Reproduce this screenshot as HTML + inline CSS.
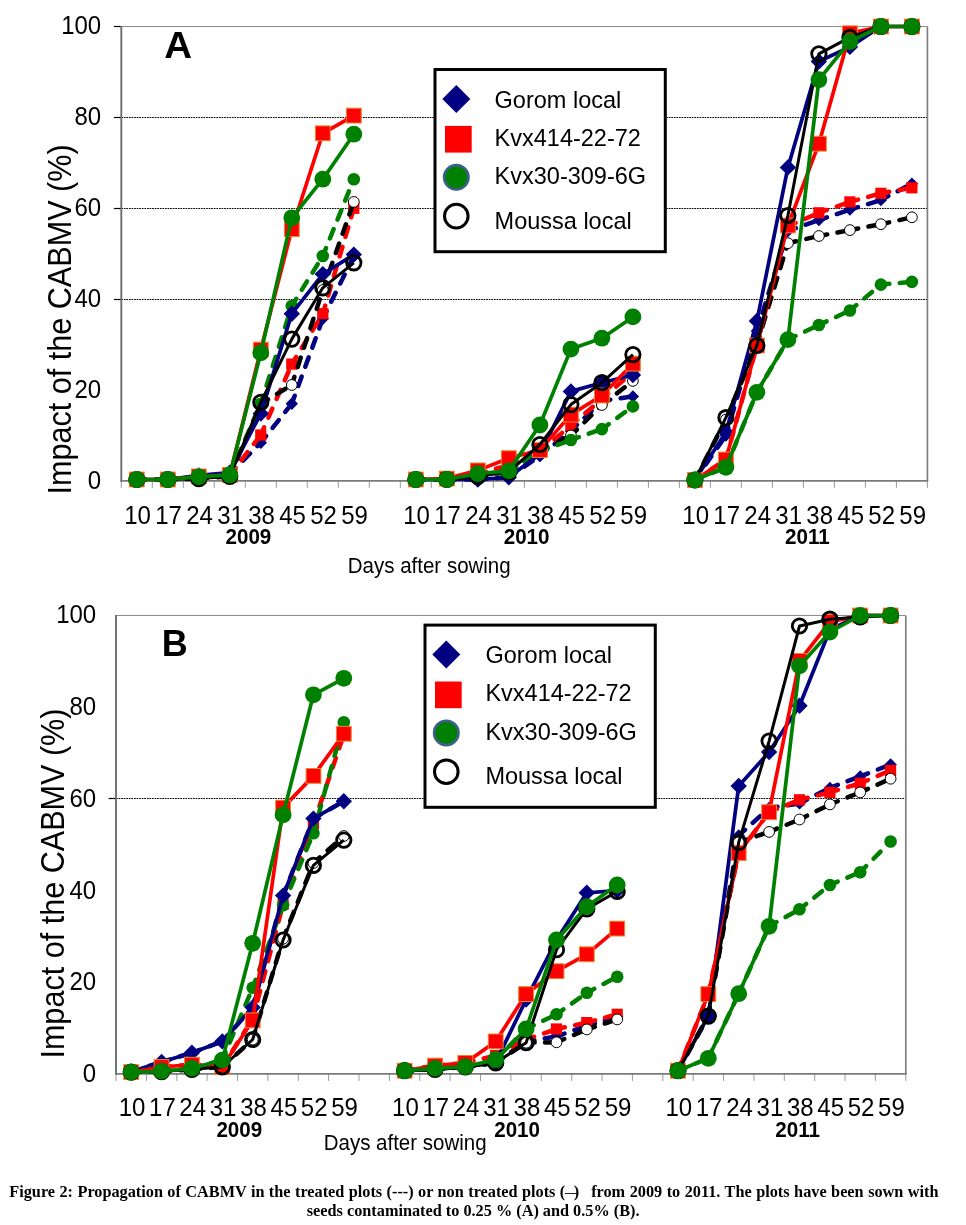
<!DOCTYPE html>
<html lang="en">
<head>
<meta charset="utf-8">
<title>Figure 2: Propagation of CABMV</title>
<style>
html,body{margin:0;padding:0;background:#fff;}
body{width:966px;height:1225px;overflow:hidden;}
svg{display:block;}
</style>
</head>
<body>
<svg width="966" height="1225" viewBox="0 0 966 1225" font-family="'Liberation Sans', Arial, sans-serif" fill="#000">
<rect width="966" height="1225" fill="#fff"/>
<g id="chartA">
<line x1="121.3" y1="299.5" x2="927.4" y2="299.5" stroke="#000" stroke-width="1" stroke-dasharray="1.7 0.87"/>
<line x1="121.3" y1="208.5" x2="927.4" y2="208.5" stroke="#000" stroke-width="1" stroke-dasharray="1.7 0.87"/>
<line x1="121.3" y1="117.5" x2="927.4" y2="117.5" stroke="#000" stroke-width="1" stroke-dasharray="1.7 0.87"/>
<path d="M121.3 26.5H927.4" fill="none" stroke="#8c8c8c" stroke-width="1.1"/>
<path d="M927.4 26.5V480.9" fill="none" stroke="#808080" stroke-width="1.7"/>
<line x1="113.9" y1="299.5" x2="121.3" y2="299.5" stroke="#000" stroke-width="1.2"/>
<line x1="113.9" y1="208.5" x2="121.3" y2="208.5" stroke="#000" stroke-width="1.2"/>
<line x1="113.9" y1="117.5" x2="121.3" y2="117.5" stroke="#000" stroke-width="1.2"/>
<line x1="113.9" y1="26.5" x2="121.3" y2="26.5" stroke="#000" stroke-width="1.2"/>
<line x1="121.3" y1="480.9" x2="121.3" y2="487.9" stroke="#9a9a9a" stroke-width="1"/>
<line x1="152.3" y1="480.9" x2="152.3" y2="487.9" stroke="#9a9a9a" stroke-width="1"/>
<line x1="183.3" y1="480.9" x2="183.3" y2="487.9" stroke="#9a9a9a" stroke-width="1"/>
<line x1="214.3" y1="480.9" x2="214.3" y2="487.9" stroke="#9a9a9a" stroke-width="1"/>
<line x1="245.3" y1="480.9" x2="245.3" y2="487.9" stroke="#9a9a9a" stroke-width="1"/>
<line x1="276.3" y1="480.9" x2="276.3" y2="487.9" stroke="#9a9a9a" stroke-width="1"/>
<line x1="307.3" y1="480.9" x2="307.3" y2="487.9" stroke="#9a9a9a" stroke-width="1"/>
<line x1="338.3" y1="480.9" x2="338.3" y2="487.9" stroke="#9a9a9a" stroke-width="1"/>
<line x1="369.3" y1="480.9" x2="369.3" y2="487.9" stroke="#9a9a9a" stroke-width="1"/>
<line x1="400.3" y1="480.9" x2="400.3" y2="487.9" stroke="#9a9a9a" stroke-width="1"/>
<line x1="431.3" y1="480.9" x2="431.3" y2="487.9" stroke="#9a9a9a" stroke-width="1"/>
<line x1="462.3" y1="480.9" x2="462.3" y2="487.9" stroke="#9a9a9a" stroke-width="1"/>
<line x1="493.3" y1="480.9" x2="493.3" y2="487.9" stroke="#9a9a9a" stroke-width="1"/>
<line x1="524.4" y1="480.9" x2="524.4" y2="487.9" stroke="#9a9a9a" stroke-width="1"/>
<line x1="555.4" y1="480.9" x2="555.4" y2="487.9" stroke="#9a9a9a" stroke-width="1"/>
<line x1="586.4" y1="480.9" x2="586.4" y2="487.9" stroke="#9a9a9a" stroke-width="1"/>
<line x1="617.4" y1="480.9" x2="617.4" y2="487.9" stroke="#9a9a9a" stroke-width="1"/>
<line x1="648.4" y1="480.9" x2="648.4" y2="487.9" stroke="#9a9a9a" stroke-width="1"/>
<line x1="679.4" y1="480.9" x2="679.4" y2="487.9" stroke="#9a9a9a" stroke-width="1"/>
<line x1="710.4" y1="480.9" x2="710.4" y2="487.9" stroke="#9a9a9a" stroke-width="1"/>
<line x1="741.4" y1="480.9" x2="741.4" y2="487.9" stroke="#9a9a9a" stroke-width="1"/>
<line x1="772.4" y1="480.9" x2="772.4" y2="487.9" stroke="#9a9a9a" stroke-width="1"/>
<line x1="803.4" y1="480.9" x2="803.4" y2="487.9" stroke="#9a9a9a" stroke-width="1"/>
<line x1="834.4" y1="480.9" x2="834.4" y2="487.9" stroke="#9a9a9a" stroke-width="1"/>
<line x1="865.4" y1="480.9" x2="865.4" y2="487.9" stroke="#9a9a9a" stroke-width="1"/>
<line x1="896.4" y1="480.9" x2="896.4" y2="487.9" stroke="#9a9a9a" stroke-width="1"/>
<line x1="927.4" y1="480.9" x2="927.4" y2="487.9" stroke="#9a9a9a" stroke-width="1"/>
<path d="M121.3 26V481.8" fill="none" stroke="#6e6e6e" stroke-width="1.9"/>
<path d="M120.4 480.9H928.2" fill="none" stroke="#7a7a7a" stroke-width="1.8"/>
<line x1="136.8" y1="479.5" x2="167.8" y2="479.5" stroke="#000080" stroke-width="4.5" stroke-dasharray="10 10.4" stroke-dashoffset="1.5" stroke-linecap="round"/>
<line x1="167.8" y1="479.5" x2="198.8" y2="476.4" stroke="#000080" stroke-width="4.5" stroke-dasharray="10 10.4" stroke-dashoffset="1.5" stroke-linecap="round"/>
<line x1="198.8" y1="476.4" x2="229.8" y2="474.1" stroke="#000080" stroke-width="4.5" stroke-dasharray="10 10.4" stroke-dashoffset="1.5" stroke-linecap="round"/>
<line x1="229.8" y1="474.1" x2="260.8" y2="442.7" stroke="#000080" stroke-width="4.5" stroke-dasharray="10 10.4" stroke-dashoffset="1.5" stroke-linecap="round"/>
<line x1="260.8" y1="442.7" x2="291.8" y2="403.7" stroke="#000080" stroke-width="4.5" stroke-dasharray="10 10.4" stroke-dashoffset="1.5" stroke-linecap="round"/>
<line x1="291.8" y1="403.7" x2="322.8" y2="318.7" stroke="#000080" stroke-width="4.5" stroke-dasharray="10 10.4" stroke-dashoffset="1.5" stroke-linecap="round"/>
<line x1="322.8" y1="318.7" x2="353.8" y2="256" stroke="#000080" stroke-width="4.5" stroke-dasharray="10 10.4" stroke-dashoffset="1.5" stroke-linecap="round"/>
<path d="M136.8 473.3L143 479.5L136.8 485.7L130.6 479.5Z" fill="#000080"/>
<path d="M167.8 473.3L174 479.5L167.8 485.7L161.6 479.5Z" fill="#000080"/>
<path d="M198.8 470.2L205 476.4L198.8 482.6L192.6 476.4Z" fill="#000080"/>
<path d="M229.8 467.9L236 474.1L229.8 480.3L223.6 474.1Z" fill="#000080"/>
<path d="M260.8 436.5L267 442.7L260.8 448.9L254.6 442.7Z" fill="#000080"/>
<path d="M291.8 397.5L298 403.7L291.8 409.9L285.6 403.7Z" fill="#000080"/>
<path d="M322.8 312.5L329 318.7L322.8 324.9L316.6 318.7Z" fill="#000080"/>
<path d="M353.8 249.8L360 256L353.8 262.2L347.6 256Z" fill="#000080"/>
<line x1="415.8" y1="479.5" x2="446.8" y2="479.5" stroke="#000080" stroke-width="4.5" stroke-dasharray="10 10.4" stroke-dashoffset="1.5" stroke-linecap="round"/>
<line x1="446.8" y1="479.5" x2="477.8" y2="479.5" stroke="#000080" stroke-width="4.5" stroke-dasharray="10 10.4" stroke-dashoffset="1.5" stroke-linecap="round"/>
<line x1="477.8" y1="479.5" x2="508.8" y2="477.3" stroke="#000080" stroke-width="4.5" stroke-dasharray="10 10.4" stroke-dashoffset="1.5" stroke-linecap="round"/>
<line x1="508.8" y1="477.3" x2="539.9" y2="455.9" stroke="#000080" stroke-width="4.5" stroke-dasharray="10 10.4" stroke-dashoffset="1.5" stroke-linecap="round"/>
<line x1="539.9" y1="455.9" x2="570.9" y2="430.9" stroke="#000080" stroke-width="4.5" stroke-dasharray="10 10.4" stroke-dashoffset="1.5" stroke-linecap="round"/>
<line x1="570.9" y1="430.9" x2="601.9" y2="400.9" stroke="#000080" stroke-width="4.5" stroke-dasharray="10 10.4" stroke-dashoffset="1.5" stroke-linecap="round"/>
<line x1="601.9" y1="400.9" x2="632.9" y2="396.4" stroke="#000080" stroke-width="4.5" stroke-dasharray="10 10.4" stroke-dashoffset="1.5" stroke-linecap="round"/>
<path d="M415.8 473.3L422 479.5L415.8 485.7L409.6 479.5Z" fill="#000080"/>
<path d="M446.8 473.3L453 479.5L446.8 485.7L440.6 479.5Z" fill="#000080"/>
<path d="M477.8 473.3L484 479.5L477.8 485.7L471.6 479.5Z" fill="#000080"/>
<path d="M508.8 471.1L515 477.3L508.8 483.5L502.6 477.3Z" fill="#000080"/>
<path d="M539.9 449.7L546.1 455.9L539.9 462.1L533.7 455.9Z" fill="#000080"/>
<path d="M570.9 424.7L577.1 430.9L570.9 437.1L564.7 430.9Z" fill="#000080"/>
<path d="M601.9 394.7L608.1 400.9L601.9 407.1L595.7 400.9Z" fill="#000080"/>
<path d="M632.9 390.2L639.1 396.4L632.9 402.6L626.7 396.4Z" fill="#000080"/>
<line x1="694.9" y1="480" x2="725.9" y2="435.5" stroke="#000080" stroke-width="4.5" stroke-dasharray="10 10.4" stroke-dashoffset="1.5" stroke-linecap="round"/>
<line x1="725.9" y1="435.5" x2="756.9" y2="330.9" stroke="#000080" stroke-width="4.5" stroke-dasharray="10 10.4" stroke-dashoffset="1.5" stroke-linecap="round"/>
<line x1="756.9" y1="330.9" x2="787.9" y2="231" stroke="#000080" stroke-width="4.5" stroke-dasharray="10 10.4" stroke-dashoffset="1.5" stroke-linecap="round"/>
<line x1="787.9" y1="231" x2="818.9" y2="220.1" stroke="#000080" stroke-width="4.5" stroke-dasharray="10 10.4" stroke-dashoffset="1.5" stroke-linecap="round"/>
<line x1="818.9" y1="220.1" x2="849.9" y2="209.6" stroke="#000080" stroke-width="4.5" stroke-dasharray="10 10.4" stroke-dashoffset="1.5" stroke-linecap="round"/>
<line x1="849.9" y1="209.6" x2="880.9" y2="200.1" stroke="#000080" stroke-width="4.5" stroke-dasharray="10 10.4" stroke-dashoffset="1.5" stroke-linecap="round"/>
<line x1="880.9" y1="200.1" x2="911.9" y2="183.7" stroke="#000080" stroke-width="4.5" stroke-dasharray="10 10.4" stroke-dashoffset="1.5" stroke-linecap="round"/>
<path d="M694.9 473.8L701.1 480L694.9 486.2L688.7 480Z" fill="#000080"/>
<path d="M725.9 429.3L732.1 435.5L725.9 441.7L719.7 435.5Z" fill="#000080"/>
<path d="M756.9 324.7L763.1 330.9L756.9 337.1L750.7 330.9Z" fill="#000080"/>
<path d="M787.9 224.8L794.1 231L787.9 237.2L781.7 231Z" fill="#000080"/>
<path d="M818.9 213.9L825.1 220.1L818.9 226.3L812.7 220.1Z" fill="#000080"/>
<path d="M849.9 203.4L856.1 209.6L849.9 215.8L843.7 209.6Z" fill="#000080"/>
<path d="M880.9 193.9L887.1 200.1L880.9 206.3L874.7 200.1Z" fill="#000080"/>
<path d="M911.9 177.5L918.1 183.7L911.9 189.9L905.7 183.7Z" fill="#000080"/>
<line x1="136.8" y1="479.5" x2="167.8" y2="479.5" stroke="#ff0000" stroke-width="4.5" stroke-dasharray="10 10.4" stroke-dashoffset="1.5" stroke-linecap="round"/>
<line x1="167.8" y1="479.5" x2="198.8" y2="476.4" stroke="#ff0000" stroke-width="4.5" stroke-dasharray="10 10.4" stroke-dashoffset="1.5" stroke-linecap="round"/>
<line x1="198.8" y1="476.4" x2="229.8" y2="475" stroke="#ff0000" stroke-width="4.5" stroke-dasharray="10 10.4" stroke-dashoffset="1.5" stroke-linecap="round"/>
<line x1="229.8" y1="475" x2="260.8" y2="435" stroke="#ff0000" stroke-width="4.5" stroke-dasharray="10 10.4" stroke-dashoffset="1.5" stroke-linecap="round"/>
<line x1="260.8" y1="435" x2="291.8" y2="364.1" stroke="#ff0000" stroke-width="4.5" stroke-dasharray="10 10.4" stroke-dashoffset="1.5" stroke-linecap="round"/>
<line x1="291.8" y1="364.1" x2="322.8" y2="313.7" stroke="#ff0000" stroke-width="4.5" stroke-dasharray="10 10.4" stroke-dashoffset="1.5" stroke-linecap="round"/>
<line x1="322.8" y1="313.7" x2="353.8" y2="208.3" stroke="#ff0000" stroke-width="4.5" stroke-dasharray="10 10.4" stroke-dashoffset="1.5" stroke-linecap="round"/>
<rect x="131.2" y="473.9" width="11.2" height="11.2" fill="#ff0000"/>
<rect x="162.2" y="473.9" width="11.2" height="11.2" fill="#ff0000"/>
<rect x="193.2" y="470.8" width="11.2" height="11.2" fill="#ff0000"/>
<rect x="224.2" y="469.4" width="11.2" height="11.2" fill="#ff0000"/>
<rect x="255.2" y="429.4" width="11.2" height="11.2" fill="#ff0000"/>
<rect x="286.2" y="358.5" width="11.2" height="11.2" fill="#ff0000"/>
<rect x="317.2" y="308.1" width="11.2" height="11.2" fill="#ff0000"/>
<rect x="348.2" y="202.7" width="11.2" height="11.2" fill="#ff0000"/>
<line x1="415.8" y1="479.5" x2="446.8" y2="479.5" stroke="#ff0000" stroke-width="4.5" stroke-dasharray="10 10.4" stroke-dashoffset="1.5" stroke-linecap="round"/>
<line x1="446.8" y1="479.5" x2="477.8" y2="474.1" stroke="#ff0000" stroke-width="4.5" stroke-dasharray="10 10.4" stroke-dashoffset="1.5" stroke-linecap="round"/>
<line x1="477.8" y1="474.1" x2="508.8" y2="465" stroke="#ff0000" stroke-width="4.5" stroke-dasharray="10 10.4" stroke-dashoffset="1.5" stroke-linecap="round"/>
<line x1="508.8" y1="465" x2="539.9" y2="451.4" stroke="#ff0000" stroke-width="4.5" stroke-dasharray="10 10.4" stroke-dashoffset="1.5" stroke-linecap="round"/>
<line x1="539.9" y1="451.4" x2="570.9" y2="425.5" stroke="#ff0000" stroke-width="4.5" stroke-dasharray="10 10.4" stroke-dashoffset="1.5" stroke-linecap="round"/>
<line x1="570.9" y1="425.5" x2="601.9" y2="399.1" stroke="#ff0000" stroke-width="4.5" stroke-dasharray="10 10.4" stroke-dashoffset="1.5" stroke-linecap="round"/>
<line x1="601.9" y1="399.1" x2="632.9" y2="371.8" stroke="#ff0000" stroke-width="4.5" stroke-dasharray="10 10.4" stroke-dashoffset="1.5" stroke-linecap="round"/>
<rect x="410.2" y="473.9" width="11.2" height="11.2" fill="#ff0000"/>
<rect x="441.2" y="473.9" width="11.2" height="11.2" fill="#ff0000"/>
<rect x="472.2" y="468.5" width="11.2" height="11.2" fill="#ff0000"/>
<rect x="503.2" y="459.4" width="11.2" height="11.2" fill="#ff0000"/>
<rect x="534.3" y="445.8" width="11.2" height="11.2" fill="#ff0000"/>
<rect x="565.3" y="419.9" width="11.2" height="11.2" fill="#ff0000"/>
<rect x="596.3" y="393.5" width="11.2" height="11.2" fill="#ff0000"/>
<rect x="627.3" y="366.2" width="11.2" height="11.2" fill="#ff0000"/>
<line x1="694.9" y1="480" x2="725.9" y2="459.5" stroke="#ff0000" stroke-width="4.5" stroke-dasharray="10 10.4" stroke-dashoffset="1.5" stroke-linecap="round"/>
<line x1="725.9" y1="459.5" x2="756.9" y2="345.5" stroke="#ff0000" stroke-width="4.5" stroke-dasharray="10 10.4" stroke-dashoffset="1.5" stroke-linecap="round"/>
<line x1="756.9" y1="345.5" x2="787.9" y2="226.4" stroke="#ff0000" stroke-width="4.5" stroke-dasharray="10 10.4" stroke-dashoffset="1.5" stroke-linecap="round"/>
<line x1="787.9" y1="226.4" x2="818.9" y2="212.8" stroke="#ff0000" stroke-width="4.5" stroke-dasharray="10 10.4" stroke-dashoffset="1.5" stroke-linecap="round"/>
<line x1="818.9" y1="212.8" x2="849.9" y2="201.9" stroke="#ff0000" stroke-width="4.5" stroke-dasharray="10 10.4" stroke-dashoffset="1.5" stroke-linecap="round"/>
<line x1="849.9" y1="201.9" x2="880.9" y2="193.3" stroke="#ff0000" stroke-width="4.5" stroke-dasharray="10 10.4" stroke-dashoffset="1.5" stroke-linecap="round"/>
<line x1="880.9" y1="193.3" x2="911.9" y2="187.8" stroke="#ff0000" stroke-width="4.5" stroke-dasharray="10 10.4" stroke-dashoffset="1.5" stroke-linecap="round"/>
<rect x="689.3" y="474.4" width="11.2" height="11.2" fill="#ff0000"/>
<rect x="720.3" y="453.9" width="11.2" height="11.2" fill="#ff0000"/>
<rect x="751.3" y="339.9" width="11.2" height="11.2" fill="#ff0000"/>
<rect x="782.3" y="220.8" width="11.2" height="11.2" fill="#ff0000"/>
<rect x="813.3" y="207.2" width="11.2" height="11.2" fill="#ff0000"/>
<rect x="844.3" y="196.3" width="11.2" height="11.2" fill="#ff0000"/>
<rect x="875.3" y="187.7" width="11.2" height="11.2" fill="#ff0000"/>
<rect x="906.3" y="182.2" width="11.2" height="11.2" fill="#ff0000"/>
<line x1="136.8" y1="479.5" x2="167.8" y2="479.5" stroke="#000000" stroke-width="4.5" stroke-dasharray="10 10.4" stroke-dashoffset="1.5" stroke-linecap="round"/>
<line x1="167.8" y1="479.5" x2="198.8" y2="478.6" stroke="#000000" stroke-width="4.5" stroke-dasharray="10 10.4" stroke-dashoffset="1.5" stroke-linecap="round"/>
<line x1="198.8" y1="478.6" x2="229.8" y2="476.4" stroke="#000000" stroke-width="4.5" stroke-dasharray="10 10.4" stroke-dashoffset="1.5" stroke-linecap="round"/>
<line x1="229.8" y1="476.4" x2="260.8" y2="403.7" stroke="#000000" stroke-width="4.5" stroke-dasharray="10 10.4" stroke-dashoffset="1.5" stroke-linecap="round"/>
<line x1="260.8" y1="403.7" x2="291.8" y2="385" stroke="#000000" stroke-width="4.5" stroke-dasharray="10 10.4" stroke-dashoffset="1.5" stroke-linecap="round"/>
<line x1="291.8" y1="385" x2="322.8" y2="290.1" stroke="#000000" stroke-width="4.5" stroke-dasharray="10 10.4" stroke-dashoffset="1.5" stroke-linecap="round"/>
<line x1="322.8" y1="290.1" x2="353.8" y2="201.9" stroke="#000000" stroke-width="4.5" stroke-dasharray="10 10.4" stroke-dashoffset="1.5" stroke-linecap="round"/>
<circle cx="136.8" cy="479.5" r="5.4" fill="#fff" stroke="#000" stroke-width="1"/>
<circle cx="167.8" cy="479.5" r="5.4" fill="#fff" stroke="#000" stroke-width="1"/>
<circle cx="198.8" cy="478.6" r="5.4" fill="#fff" stroke="#000" stroke-width="1"/>
<circle cx="229.8" cy="476.4" r="5.4" fill="#fff" stroke="#000" stroke-width="1"/>
<circle cx="260.8" cy="403.7" r="5.4" fill="#fff" stroke="#000" stroke-width="1"/>
<circle cx="291.8" cy="385" r="5.4" fill="#fff" stroke="#000" stroke-width="1"/>
<circle cx="322.8" cy="290.1" r="5.4" fill="#fff" stroke="#000" stroke-width="1"/>
<circle cx="353.8" cy="201.9" r="5.4" fill="#fff" stroke="#000" stroke-width="1"/>
<line x1="415.8" y1="479.5" x2="446.8" y2="479.5" stroke="#000000" stroke-width="4.5" stroke-dasharray="10 10.4" stroke-dashoffset="1.5" stroke-linecap="round"/>
<line x1="446.8" y1="479.5" x2="477.8" y2="476.4" stroke="#000000" stroke-width="4.5" stroke-dasharray="10 10.4" stroke-dashoffset="1.5" stroke-linecap="round"/>
<line x1="477.8" y1="476.4" x2="508.8" y2="471.8" stroke="#000000" stroke-width="4.5" stroke-dasharray="10 10.4" stroke-dashoffset="1.5" stroke-linecap="round"/>
<line x1="508.8" y1="471.8" x2="539.9" y2="451.4" stroke="#000000" stroke-width="4.5" stroke-dasharray="10 10.4" stroke-dashoffset="1.5" stroke-linecap="round"/>
<line x1="539.9" y1="451.4" x2="570.9" y2="435.5" stroke="#000000" stroke-width="4.5" stroke-dasharray="10 10.4" stroke-dashoffset="1.5" stroke-linecap="round"/>
<line x1="570.9" y1="435.5" x2="601.9" y2="405" stroke="#000000" stroke-width="4.5" stroke-dasharray="10 10.4" stroke-dashoffset="1.5" stroke-linecap="round"/>
<line x1="601.9" y1="405" x2="632.9" y2="380.9" stroke="#000000" stroke-width="4.5" stroke-dasharray="10 10.4" stroke-dashoffset="1.5" stroke-linecap="round"/>
<circle cx="415.8" cy="479.5" r="5.4" fill="#fff" stroke="#000" stroke-width="1"/>
<circle cx="446.8" cy="479.5" r="5.4" fill="#fff" stroke="#000" stroke-width="1"/>
<circle cx="477.8" cy="476.4" r="5.4" fill="#fff" stroke="#000" stroke-width="1"/>
<circle cx="508.8" cy="471.8" r="5.4" fill="#fff" stroke="#000" stroke-width="1"/>
<circle cx="539.9" cy="451.4" r="5.4" fill="#fff" stroke="#000" stroke-width="1"/>
<circle cx="570.9" cy="435.5" r="5.4" fill="#fff" stroke="#000" stroke-width="1"/>
<circle cx="601.9" cy="405" r="5.4" fill="#fff" stroke="#000" stroke-width="1"/>
<circle cx="632.9" cy="380.9" r="5.4" fill="#fff" stroke="#000" stroke-width="1"/>
<line x1="694.9" y1="480" x2="725.9" y2="419.6" stroke="#000000" stroke-width="4.5" stroke-dasharray="10 10.4" stroke-dashoffset="1.5" stroke-linecap="round"/>
<line x1="725.9" y1="419.6" x2="756.9" y2="344.6" stroke="#000000" stroke-width="4.5" stroke-dasharray="10 10.4" stroke-dashoffset="1.5" stroke-linecap="round"/>
<line x1="756.9" y1="344.6" x2="787.9" y2="243.2" stroke="#000000" stroke-width="4.5" stroke-dasharray="10 10.4" stroke-dashoffset="1.5" stroke-linecap="round"/>
<line x1="787.9" y1="243.2" x2="818.9" y2="236" stroke="#000000" stroke-width="4.5" stroke-dasharray="10 10.4" stroke-dashoffset="1.5" stroke-linecap="round"/>
<line x1="818.9" y1="236" x2="849.9" y2="230.1" stroke="#000000" stroke-width="4.5" stroke-dasharray="10 10.4" stroke-dashoffset="1.5" stroke-linecap="round"/>
<line x1="849.9" y1="230.1" x2="880.9" y2="224.2" stroke="#000000" stroke-width="4.5" stroke-dasharray="10 10.4" stroke-dashoffset="1.5" stroke-linecap="round"/>
<line x1="880.9" y1="224.2" x2="911.9" y2="217.3" stroke="#000000" stroke-width="4.5" stroke-dasharray="10 10.4" stroke-dashoffset="1.5" stroke-linecap="round"/>
<circle cx="694.9" cy="480" r="5.4" fill="#fff" stroke="#000" stroke-width="1"/>
<circle cx="725.9" cy="419.6" r="5.4" fill="#fff" stroke="#000" stroke-width="1"/>
<circle cx="756.9" cy="344.6" r="5.4" fill="#fff" stroke="#000" stroke-width="1"/>
<circle cx="787.9" cy="243.2" r="5.4" fill="#fff" stroke="#000" stroke-width="1"/>
<circle cx="818.9" cy="236" r="5.4" fill="#fff" stroke="#000" stroke-width="1"/>
<circle cx="849.9" cy="230.1" r="5.4" fill="#fff" stroke="#000" stroke-width="1"/>
<circle cx="880.9" cy="224.2" r="5.4" fill="#fff" stroke="#000" stroke-width="1"/>
<circle cx="911.9" cy="217.3" r="5.4" fill="#fff" stroke="#000" stroke-width="1"/>
<line x1="136.8" y1="479.5" x2="167.8" y2="479.5" stroke="#008000" stroke-width="4.5" stroke-dasharray="10 10.4" stroke-dashoffset="1.5" stroke-linecap="round"/>
<line x1="167.8" y1="479.5" x2="198.8" y2="476.8" stroke="#008000" stroke-width="4.5" stroke-dasharray="10 10.4" stroke-dashoffset="1.5" stroke-linecap="round"/>
<line x1="198.8" y1="476.8" x2="229.8" y2="475" stroke="#008000" stroke-width="4.5" stroke-dasharray="10 10.4" stroke-dashoffset="1.5" stroke-linecap="round"/>
<line x1="229.8" y1="475" x2="260.8" y2="403.7" stroke="#008000" stroke-width="4.5" stroke-dasharray="10 10.4" stroke-dashoffset="1.5" stroke-linecap="round"/>
<line x1="260.8" y1="403.7" x2="291.8" y2="306" stroke="#008000" stroke-width="4.5" stroke-dasharray="10 10.4" stroke-dashoffset="1.5" stroke-linecap="round"/>
<line x1="291.8" y1="306" x2="322.8" y2="256" stroke="#008000" stroke-width="4.5" stroke-dasharray="10 10.4" stroke-dashoffset="1.5" stroke-linecap="round"/>
<line x1="322.8" y1="256" x2="353.8" y2="179.2" stroke="#008000" stroke-width="4.5" stroke-dasharray="10 10.4" stroke-dashoffset="1.5" stroke-linecap="round"/>
<circle cx="136.8" cy="479.5" r="6.3" fill="#008000"/>
<circle cx="167.8" cy="479.5" r="6.3" fill="#008000"/>
<circle cx="198.8" cy="476.8" r="6.3" fill="#008000"/>
<circle cx="229.8" cy="475" r="6.3" fill="#008000"/>
<circle cx="260.8" cy="403.7" r="6.3" fill="#008000"/>
<circle cx="291.8" cy="306" r="6.3" fill="#008000"/>
<circle cx="322.8" cy="256" r="6.3" fill="#008000"/>
<circle cx="353.8" cy="179.2" r="6.3" fill="#008000"/>
<line x1="415.8" y1="479.5" x2="446.8" y2="479.5" stroke="#008000" stroke-width="4.5" stroke-dasharray="10 10.4" stroke-dashoffset="1.5" stroke-linecap="round"/>
<line x1="446.8" y1="479.5" x2="477.8" y2="476.4" stroke="#008000" stroke-width="4.5" stroke-dasharray="10 10.4" stroke-dashoffset="1.5" stroke-linecap="round"/>
<line x1="477.8" y1="476.4" x2="508.8" y2="471.8" stroke="#008000" stroke-width="4.5" stroke-dasharray="10 10.4" stroke-dashoffset="1.5" stroke-linecap="round"/>
<line x1="508.8" y1="471.8" x2="539.9" y2="451.4" stroke="#008000" stroke-width="4.5" stroke-dasharray="10 10.4" stroke-dashoffset="1.5" stroke-linecap="round"/>
<line x1="539.9" y1="451.4" x2="570.9" y2="440" stroke="#008000" stroke-width="4.5" stroke-dasharray="10 10.4" stroke-dashoffset="1.5" stroke-linecap="round"/>
<line x1="570.9" y1="440" x2="601.9" y2="429.1" stroke="#008000" stroke-width="4.5" stroke-dasharray="10 10.4" stroke-dashoffset="1.5" stroke-linecap="round"/>
<line x1="601.9" y1="429.1" x2="632.9" y2="406.4" stroke="#008000" stroke-width="4.5" stroke-dasharray="10 10.4" stroke-dashoffset="1.5" stroke-linecap="round"/>
<circle cx="415.8" cy="479.5" r="6.3" fill="#008000"/>
<circle cx="446.8" cy="479.5" r="6.3" fill="#008000"/>
<circle cx="477.8" cy="476.4" r="6.3" fill="#008000"/>
<circle cx="508.8" cy="471.8" r="6.3" fill="#008000"/>
<circle cx="539.9" cy="451.4" r="6.3" fill="#008000"/>
<circle cx="570.9" cy="440" r="6.3" fill="#008000"/>
<circle cx="601.9" cy="429.1" r="6.3" fill="#008000"/>
<circle cx="632.9" cy="406.4" r="6.3" fill="#008000"/>
<line x1="694.9" y1="480" x2="725.9" y2="467.3" stroke="#008000" stroke-width="4.5" stroke-dasharray="10 10.4" stroke-dashoffset="1.5" stroke-linecap="round"/>
<line x1="725.9" y1="467.3" x2="756.9" y2="392.3" stroke="#008000" stroke-width="4.5" stroke-dasharray="10 10.4" stroke-dashoffset="1.5" stroke-linecap="round"/>
<line x1="756.9" y1="392.3" x2="787.9" y2="339.6" stroke="#008000" stroke-width="4.5" stroke-dasharray="10 10.4" stroke-dashoffset="1.5" stroke-linecap="round"/>
<line x1="787.9" y1="339.6" x2="818.9" y2="325" stroke="#008000" stroke-width="4.5" stroke-dasharray="10 10.4" stroke-dashoffset="1.5" stroke-linecap="round"/>
<line x1="818.9" y1="325" x2="849.9" y2="310.5" stroke="#008000" stroke-width="4.5" stroke-dasharray="10 10.4" stroke-dashoffset="1.5" stroke-linecap="round"/>
<line x1="849.9" y1="310.5" x2="880.9" y2="284.6" stroke="#008000" stroke-width="4.5" stroke-dasharray="10 10.4" stroke-dashoffset="1.5" stroke-linecap="round"/>
<line x1="880.9" y1="284.6" x2="911.9" y2="281.9" stroke="#008000" stroke-width="4.5" stroke-dasharray="10 10.4" stroke-dashoffset="1.5" stroke-linecap="round"/>
<circle cx="694.9" cy="480" r="6.3" fill="#008000"/>
<circle cx="725.9" cy="467.3" r="6.3" fill="#008000"/>
<circle cx="756.9" cy="392.3" r="6.3" fill="#008000"/>
<circle cx="787.9" cy="339.6" r="6.3" fill="#008000"/>
<circle cx="818.9" cy="325" r="6.3" fill="#008000"/>
<circle cx="849.9" cy="310.5" r="6.3" fill="#008000"/>
<circle cx="880.9" cy="284.6" r="6.3" fill="#008000"/>
<circle cx="911.9" cy="281.9" r="6.3" fill="#008000"/>
<path d="M136.8 479.5L167.8 479.5L198.8 475.4L229.8 472.7L260.8 413.6L291.8 313.7L322.8 274.1L353.8 254.6" fill="none" stroke="#000080" stroke-width="3.7" stroke-linejoin="round"/>
<path d="M136.8 471.3L145 479.5L136.8 487.7L128.6 479.5Z" fill="#000080"/>
<path d="M167.8 471.3L176 479.5L167.8 487.7L159.6 479.5Z" fill="#000080"/>
<path d="M198.8 467.2L207 475.4L198.8 483.6L190.6 475.4Z" fill="#000080"/>
<path d="M229.8 464.5L238 472.7L229.8 480.9L221.6 472.7Z" fill="#000080"/>
<path d="M260.8 405.4L269 413.6L260.8 421.8L252.6 413.6Z" fill="#000080"/>
<path d="M291.8 305.5L300 313.7L291.8 321.9L283.6 313.7Z" fill="#000080"/>
<path d="M322.8 265.9L331 274.1L322.8 282.3L314.6 274.1Z" fill="#000080"/>
<path d="M353.8 246.4L362 254.6L353.8 262.8L345.6 254.6Z" fill="#000080"/>
<path d="M415.8 479.5L446.8 479.5L477.8 479.5L508.8 477.3L539.9 454.1L570.9 391.4L601.9 382.7L632.9 375" fill="none" stroke="#000080" stroke-width="3.7" stroke-linejoin="round"/>
<path d="M415.8 471.3L424 479.5L415.8 487.7L407.6 479.5Z" fill="#000080"/>
<path d="M446.8 471.3L455 479.5L446.8 487.7L438.6 479.5Z" fill="#000080"/>
<path d="M477.8 471.3L486 479.5L477.8 487.7L469.6 479.5Z" fill="#000080"/>
<path d="M508.8 469.1L517 477.3L508.8 485.5L500.6 477.3Z" fill="#000080"/>
<path d="M539.9 445.9L548.1 454.1L539.9 462.3L531.7 454.1Z" fill="#000080"/>
<path d="M570.9 383.2L579.1 391.4L570.9 399.6L562.7 391.4Z" fill="#000080"/>
<path d="M601.9 374.5L610.1 382.7L601.9 390.9L593.7 382.7Z" fill="#000080"/>
<path d="M632.9 366.8L641.1 375L632.9 383.2L624.7 375Z" fill="#000080"/>
<path d="M694.9 480L725.9 432.3L756.9 321L787.9 167.4L818.9 61.5L849.9 46.9L880.9 26.5L911.9 26.5" fill="none" stroke="#000080" stroke-width="3.7" stroke-linejoin="round"/>
<path d="M694.9 471.8L703.1 480L694.9 488.2L686.7 480Z" fill="#000080"/>
<path d="M725.9 424.1L734.1 432.3L725.9 440.5L717.7 432.3Z" fill="#000080"/>
<path d="M756.9 312.8L765.1 321L756.9 329.2L748.7 321Z" fill="#000080"/>
<path d="M787.9 159.2L796.1 167.4L787.9 175.6L779.7 167.4Z" fill="#000080"/>
<path d="M818.9 53.3L827.1 61.5L818.9 69.7L810.7 61.5Z" fill="#000080"/>
<path d="M849.9 38.7L858.1 46.9L849.9 55.1L841.7 46.9Z" fill="#000080"/>
<path d="M880.9 18.3L889.1 26.5L880.9 34.7L872.7 26.5Z" fill="#000080"/>
<path d="M911.9 18.3L920.1 26.5L911.9 34.7L903.7 26.5Z" fill="#000080"/>
<path d="M136.8 479.5L167.8 479.5L198.8 476.4L229.8 475L260.8 349.6L291.8 229.2L322.8 133.3L353.8 115.6" fill="none" stroke="#ff0000" stroke-width="3.7" stroke-linejoin="round"/>
<rect x="129.4" y="472.1" width="14.8" height="14.8" fill="#ff0000" stroke="#e8862e" stroke-width="1"/>
<rect x="160.4" y="472.1" width="14.8" height="14.8" fill="#ff0000" stroke="#e8862e" stroke-width="1"/>
<rect x="191.4" y="469" width="14.8" height="14.8" fill="#ff0000" stroke="#e8862e" stroke-width="1"/>
<rect x="222.4" y="467.6" width="14.8" height="14.8" fill="#ff0000" stroke="#e8862e" stroke-width="1"/>
<rect x="253.4" y="342.2" width="14.8" height="14.8" fill="#ff0000" stroke="#e8862e" stroke-width="1"/>
<rect x="284.4" y="221.8" width="14.8" height="14.8" fill="#ff0000" stroke="#e8862e" stroke-width="1"/>
<rect x="315.4" y="125.9" width="14.8" height="14.8" fill="#ff0000" stroke="#e8862e" stroke-width="1"/>
<rect x="346.4" y="108.2" width="14.8" height="14.8" fill="#ff0000" stroke="#e8862e" stroke-width="1"/>
<path d="M415.8 479.5L446.8 478.6L477.8 470.4L508.8 458.2L539.9 450L570.9 414.6L601.9 395.5L632.9 363.7" fill="none" stroke="#ff0000" stroke-width="3.7" stroke-linejoin="round"/>
<rect x="408.4" y="472.1" width="14.8" height="14.8" fill="#ff0000" stroke="#e8862e" stroke-width="1"/>
<rect x="439.4" y="471.2" width="14.8" height="14.8" fill="#ff0000" stroke="#e8862e" stroke-width="1"/>
<rect x="470.4" y="463" width="14.8" height="14.8" fill="#ff0000" stroke="#e8862e" stroke-width="1"/>
<rect x="501.4" y="450.8" width="14.8" height="14.8" fill="#ff0000" stroke="#e8862e" stroke-width="1"/>
<rect x="532.5" y="442.6" width="14.8" height="14.8" fill="#ff0000" stroke="#e8862e" stroke-width="1"/>
<rect x="563.5" y="407.2" width="14.8" height="14.8" fill="#ff0000" stroke="#e8862e" stroke-width="1"/>
<rect x="594.5" y="388.1" width="14.8" height="14.8" fill="#ff0000" stroke="#e8862e" stroke-width="1"/>
<rect x="625.5" y="356.3" width="14.8" height="14.8" fill="#ff0000" stroke="#e8862e" stroke-width="1"/>
<path d="M694.9 480L725.9 459.5L756.9 345.5L787.9 225.5L818.9 143.7L849.9 33.3L880.9 26.5L911.9 26.5" fill="none" stroke="#ff0000" stroke-width="3.7" stroke-linejoin="round"/>
<rect x="687.5" y="472.6" width="14.8" height="14.8" fill="#ff0000" stroke="#e8862e" stroke-width="1"/>
<rect x="718.5" y="452.1" width="14.8" height="14.8" fill="#ff0000" stroke="#e8862e" stroke-width="1"/>
<rect x="749.5" y="338.1" width="14.8" height="14.8" fill="#ff0000" stroke="#e8862e" stroke-width="1"/>
<rect x="780.5" y="218.1" width="14.8" height="14.8" fill="#ff0000" stroke="#e8862e" stroke-width="1"/>
<rect x="811.5" y="136.3" width="14.8" height="14.8" fill="#ff0000" stroke="#e8862e" stroke-width="1"/>
<rect x="842.5" y="25.9" width="14.8" height="14.8" fill="#ff0000" stroke="#e8862e" stroke-width="1"/>
<rect x="873.5" y="19.1" width="14.8" height="14.8" fill="#ff0000" stroke="#e8862e" stroke-width="1"/>
<rect x="904.5" y="19.1" width="14.8" height="14.8" fill="#ff0000" stroke="#e8862e" stroke-width="1"/>
<path d="M136.8 479.5L167.8 479.5L198.8 478.6L229.8 476.4L260.8 402.3L291.8 339.1L322.8 287.8L353.8 262.8" fill="none" stroke="#000000" stroke-width="3.0" stroke-linejoin="round"/>
<circle cx="136.8" cy="479.5" r="7.2" fill="none" stroke="#000" stroke-width="2.8"/>
<circle cx="167.8" cy="479.5" r="7.2" fill="none" stroke="#000" stroke-width="2.8"/>
<circle cx="198.8" cy="478.6" r="7.2" fill="none" stroke="#000" stroke-width="2.8"/>
<circle cx="229.8" cy="476.4" r="7.2" fill="none" stroke="#000" stroke-width="2.8"/>
<circle cx="260.8" cy="402.3" r="7.2" fill="none" stroke="#000" stroke-width="2.8"/>
<circle cx="291.8" cy="339.1" r="7.2" fill="none" stroke="#000" stroke-width="2.8"/>
<circle cx="322.8" cy="287.8" r="7.2" fill="none" stroke="#000" stroke-width="2.8"/>
<circle cx="353.8" cy="262.8" r="7.2" fill="none" stroke="#000" stroke-width="2.8"/>
<path d="M415.8 479.5L446.8 479.5L477.8 476.4L508.8 471.8L539.9 444.5L570.9 404.6L601.9 382.7L632.9 354.6" fill="none" stroke="#000000" stroke-width="3.0" stroke-linejoin="round"/>
<circle cx="415.8" cy="479.5" r="7.2" fill="none" stroke="#000" stroke-width="2.8"/>
<circle cx="446.8" cy="479.5" r="7.2" fill="none" stroke="#000" stroke-width="2.8"/>
<circle cx="477.8" cy="476.4" r="7.2" fill="none" stroke="#000" stroke-width="2.8"/>
<circle cx="508.8" cy="471.8" r="7.2" fill="none" stroke="#000" stroke-width="2.8"/>
<circle cx="539.9" cy="444.5" r="7.2" fill="none" stroke="#000" stroke-width="2.8"/>
<circle cx="570.9" cy="404.6" r="7.2" fill="none" stroke="#000" stroke-width="2.8"/>
<circle cx="601.9" cy="382.7" r="7.2" fill="none" stroke="#000" stroke-width="2.8"/>
<circle cx="632.9" cy="354.6" r="7.2" fill="none" stroke="#000" stroke-width="2.8"/>
<path d="M694.9 480L725.9 417.7L756.9 345.5L787.9 215.5L818.9 53.8L849.9 37.4L880.9 26.5L911.9 26.5" fill="none" stroke="#000000" stroke-width="3.0" stroke-linejoin="round"/>
<circle cx="694.9" cy="480" r="7.2" fill="none" stroke="#000" stroke-width="2.8"/>
<circle cx="725.9" cy="417.7" r="7.2" fill="none" stroke="#000" stroke-width="2.8"/>
<circle cx="756.9" cy="345.5" r="7.2" fill="none" stroke="#000" stroke-width="2.8"/>
<circle cx="787.9" cy="215.5" r="7.2" fill="none" stroke="#000" stroke-width="2.8"/>
<circle cx="818.9" cy="53.8" r="7.2" fill="none" stroke="#000" stroke-width="2.8"/>
<circle cx="849.9" cy="37.4" r="7.2" fill="none" stroke="#000" stroke-width="2.8"/>
<circle cx="880.9" cy="26.5" r="7.2" fill="none" stroke="#000" stroke-width="2.8"/>
<circle cx="911.9" cy="26.5" r="7.2" fill="none" stroke="#000" stroke-width="2.8"/>
<path d="M136.8 479.5L167.8 479.5L198.8 476.8L229.8 475L260.8 352.8L291.8 217.8L322.8 179.2L353.8 134.2" fill="none" stroke="#008000" stroke-width="3.7" stroke-linejoin="round"/>
<circle cx="136.8" cy="479.5" r="8.4" fill="#008000"/>
<circle cx="167.8" cy="479.5" r="8.4" fill="#008000"/>
<circle cx="198.8" cy="476.8" r="8.4" fill="#008000"/>
<circle cx="229.8" cy="475" r="8.4" fill="#008000"/>
<circle cx="260.8" cy="352.8" r="8.4" fill="#008000"/>
<circle cx="291.8" cy="217.8" r="8.4" fill="#008000"/>
<circle cx="322.8" cy="179.2" r="8.4" fill="#008000"/>
<circle cx="353.8" cy="134.2" r="8.4" fill="#008000"/>
<path d="M415.8 479.5L446.8 479.5L477.8 473.6L508.8 470.9L539.9 425L570.9 349.1L601.9 338.2L632.9 316.9" fill="none" stroke="#008000" stroke-width="3.7" stroke-linejoin="round"/>
<circle cx="415.8" cy="479.5" r="8.4" fill="#008000"/>
<circle cx="446.8" cy="479.5" r="8.4" fill="#008000"/>
<circle cx="477.8" cy="473.6" r="8.4" fill="#008000"/>
<circle cx="508.8" cy="470.9" r="8.4" fill="#008000"/>
<circle cx="539.9" cy="425" r="8.4" fill="#008000"/>
<circle cx="570.9" cy="349.1" r="8.4" fill="#008000"/>
<circle cx="601.9" cy="338.2" r="8.4" fill="#008000"/>
<circle cx="632.9" cy="316.9" r="8.4" fill="#008000"/>
<path d="M694.9 480L725.9 467.3L756.9 392.3L787.9 339.6L818.9 79.7L849.9 41.5L880.9 26.5L911.9 26.5" fill="none" stroke="#008000" stroke-width="3.7" stroke-linejoin="round"/>
<circle cx="694.9" cy="480" r="8.4" fill="#008000"/>
<circle cx="725.9" cy="467.3" r="8.4" fill="#008000"/>
<circle cx="756.9" cy="392.3" r="8.4" fill="#008000"/>
<circle cx="787.9" cy="339.6" r="8.4" fill="#008000"/>
<circle cx="818.9" cy="79.7" r="8.4" fill="#008000"/>
<circle cx="849.9" cy="41.5" r="8.4" fill="#008000"/>
<circle cx="880.9" cy="26.5" r="8.4" fill="#008000"/>
<circle cx="911.9" cy="26.5" r="8.4" fill="#008000"/>
</g>
<text transform="translate(101.2 488.9) scale(1 1.04)" font-size="24" text-anchor="end">0</text>
<text transform="translate(101.2 397.9) scale(1 1.04)" font-size="24" text-anchor="end">20</text>
<text transform="translate(101.2 307) scale(1 1.04)" font-size="24" text-anchor="end">40</text>
<text transform="translate(101.2 216) scale(1 1.04)" font-size="24" text-anchor="end">60</text>
<text transform="translate(101.2 125.1) scale(1 1.04)" font-size="24" text-anchor="end">80</text>
<text transform="translate(101.2 34.1) scale(1 1.04)" font-size="24" text-anchor="end">100</text>
<text transform="translate(70.5 494.5) rotate(-90) scale(1 1.08)" font-size="30.6">Impact of the CABMV (%)</text>
<text transform="translate(164.3 57.9) scale(1 0.95)" font-size="38.5" font-weight="bold">A</text>
<text transform="translate(137.6 523.9) scale(1 1.04)" font-size="24" text-anchor="middle">10</text>
<text transform="translate(168.6 523.9) scale(1 1.04)" font-size="24" text-anchor="middle">17</text>
<text transform="translate(199.6 523.9) scale(1 1.04)" font-size="24" text-anchor="middle">24</text>
<text transform="translate(230.6 523.9) scale(1 1.04)" font-size="24" text-anchor="middle">31</text>
<text transform="translate(261.6 523.9) scale(1 1.04)" font-size="24" text-anchor="middle">38</text>
<text transform="translate(292.6 523.9) scale(1 1.04)" font-size="24" text-anchor="middle">45</text>
<text transform="translate(323.6 523.9) scale(1 1.04)" font-size="24" text-anchor="middle">52</text>
<text transform="translate(354.6 523.9) scale(1 1.04)" font-size="24" text-anchor="middle">59</text>
<text transform="translate(416.6 523.9) scale(1 1.04)" font-size="24" text-anchor="middle">10</text>
<text transform="translate(447.6 523.9) scale(1 1.04)" font-size="24" text-anchor="middle">17</text>
<text transform="translate(478.6 523.9) scale(1 1.04)" font-size="24" text-anchor="middle">24</text>
<text transform="translate(509.6 523.9) scale(1 1.04)" font-size="24" text-anchor="middle">31</text>
<text transform="translate(540.7 523.9) scale(1 1.04)" font-size="24" text-anchor="middle">38</text>
<text transform="translate(571.7 523.9) scale(1 1.04)" font-size="24" text-anchor="middle">45</text>
<text transform="translate(602.7 523.9) scale(1 1.04)" font-size="24" text-anchor="middle">52</text>
<text transform="translate(633.7 523.9) scale(1 1.04)" font-size="24" text-anchor="middle">59</text>
<text transform="translate(695.7 523.9) scale(1 1.04)" font-size="24" text-anchor="middle">10</text>
<text transform="translate(726.7 523.9) scale(1 1.04)" font-size="24" text-anchor="middle">17</text>
<text transform="translate(757.7 523.9) scale(1 1.04)" font-size="24" text-anchor="middle">24</text>
<text transform="translate(788.7 523.9) scale(1 1.04)" font-size="24" text-anchor="middle">31</text>
<text transform="translate(819.7 523.9) scale(1 1.04)" font-size="24" text-anchor="middle">38</text>
<text transform="translate(850.7 523.9) scale(1 1.04)" font-size="24" text-anchor="middle">45</text>
<text transform="translate(881.7 523.9) scale(1 1.04)" font-size="24" text-anchor="middle">52</text>
<text transform="translate(912.7 523.9) scale(1 1.04)" font-size="24" text-anchor="middle">59</text>
<text transform="translate(248.4 544) scale(1 1.04)" font-size="20.6" text-anchor="middle" font-weight="bold">2009</text>
<text transform="translate(526.6 544) scale(1 1.04)" font-size="20.6" text-anchor="middle" font-weight="bold">2010</text>
<text transform="translate(807.4 544) scale(1 1.04)" font-size="20.6" text-anchor="middle" font-weight="bold">2011</text>
<text transform="translate(347.8 573.4) scale(1 1.04)" font-size="20.5">Days after sowing</text>
<rect x="435" y="69.5" width="230.3" height="182.2" fill="#fff" stroke="#000" stroke-width="3"/>
<path d="M456.3 85L470.3 99L456.3 113L442.3 99Z" fill="#000080"/>
<rect x="445" y="125.9" width="26.7" height="26.7" fill="#ff0000"/>
<circle cx="456.3" cy="177.3" r="12.2" fill="#008000" stroke="#3c5f8c" stroke-width="2.6"/>
<circle cx="456.3" cy="216.1" r="11.8" fill="#fff" stroke="#000" stroke-width="3"/>
<text transform="translate(494.6 107.5) scale(1 1.04)" font-size="23.5">Gorom local</text>
<text transform="translate(494.6 145.8) scale(1 1.04)" font-size="23.5">Kvx414-22-72</text>
<text transform="translate(494.6 184) scale(1 1.04)" font-size="23.5">Kvx30-309-6G</text>
<text transform="translate(494.6 228.7) scale(1 1.04)" font-size="23.5">Moussa local</text>
<g id="chartB">
<line x1="116" y1="798.5" x2="905.8" y2="798.5" stroke="#000" stroke-width="1" stroke-dasharray="1.7 0.87"/>
<path d="M116 615.5H905.8" fill="none" stroke="#8c8c8c" stroke-width="1.1"/>
<path d="M905.8 615.5V1073.9" fill="none" stroke="#808080" stroke-width="1.7"/>
<line x1="108.6" y1="798.5" x2="116" y2="798.5" stroke="#000" stroke-width="1.2"/>
<line x1="116" y1="1073.9" x2="116" y2="1080.9" stroke="#9a9a9a" stroke-width="1"/>
<line x1="146.4" y1="1073.9" x2="146.4" y2="1080.9" stroke="#9a9a9a" stroke-width="1"/>
<line x1="176.8" y1="1073.9" x2="176.8" y2="1080.9" stroke="#9a9a9a" stroke-width="1"/>
<line x1="207.1" y1="1073.9" x2="207.1" y2="1080.9" stroke="#9a9a9a" stroke-width="1"/>
<line x1="237.5" y1="1073.9" x2="237.5" y2="1080.9" stroke="#9a9a9a" stroke-width="1"/>
<line x1="267.9" y1="1073.9" x2="267.9" y2="1080.9" stroke="#9a9a9a" stroke-width="1"/>
<line x1="298.3" y1="1073.9" x2="298.3" y2="1080.9" stroke="#9a9a9a" stroke-width="1"/>
<line x1="328.6" y1="1073.9" x2="328.6" y2="1080.9" stroke="#9a9a9a" stroke-width="1"/>
<line x1="359" y1="1073.9" x2="359" y2="1080.9" stroke="#9a9a9a" stroke-width="1"/>
<line x1="389.4" y1="1073.9" x2="389.4" y2="1080.9" stroke="#9a9a9a" stroke-width="1"/>
<line x1="419.8" y1="1073.9" x2="419.8" y2="1080.9" stroke="#9a9a9a" stroke-width="1"/>
<line x1="450.1" y1="1073.9" x2="450.1" y2="1080.9" stroke="#9a9a9a" stroke-width="1"/>
<line x1="480.5" y1="1073.9" x2="480.5" y2="1080.9" stroke="#9a9a9a" stroke-width="1"/>
<line x1="510.9" y1="1073.9" x2="510.9" y2="1080.9" stroke="#9a9a9a" stroke-width="1"/>
<line x1="541.3" y1="1073.9" x2="541.3" y2="1080.9" stroke="#9a9a9a" stroke-width="1"/>
<line x1="571.7" y1="1073.9" x2="571.7" y2="1080.9" stroke="#9a9a9a" stroke-width="1"/>
<line x1="602" y1="1073.9" x2="602" y2="1080.9" stroke="#9a9a9a" stroke-width="1"/>
<line x1="632.4" y1="1073.9" x2="632.4" y2="1080.9" stroke="#9a9a9a" stroke-width="1"/>
<line x1="662.8" y1="1073.9" x2="662.8" y2="1080.9" stroke="#9a9a9a" stroke-width="1"/>
<line x1="693.2" y1="1073.9" x2="693.2" y2="1080.9" stroke="#9a9a9a" stroke-width="1"/>
<line x1="723.5" y1="1073.9" x2="723.5" y2="1080.9" stroke="#9a9a9a" stroke-width="1"/>
<line x1="753.9" y1="1073.9" x2="753.9" y2="1080.9" stroke="#9a9a9a" stroke-width="1"/>
<line x1="784.3" y1="1073.9" x2="784.3" y2="1080.9" stroke="#9a9a9a" stroke-width="1"/>
<line x1="814.7" y1="1073.9" x2="814.7" y2="1080.9" stroke="#9a9a9a" stroke-width="1"/>
<line x1="845" y1="1073.9" x2="845" y2="1080.9" stroke="#9a9a9a" stroke-width="1"/>
<line x1="875.4" y1="1073.9" x2="875.4" y2="1080.9" stroke="#9a9a9a" stroke-width="1"/>
<line x1="905.8" y1="1073.9" x2="905.8" y2="1080.9" stroke="#9a9a9a" stroke-width="1"/>
<path d="M116 615V1074.8" fill="none" stroke="#6e6e6e" stroke-width="1.9"/>
<path d="M115.1 1073.9H906.6" fill="none" stroke="#7a7a7a" stroke-width="1.8"/>
<line x1="131.2" y1="1071.6" x2="161.6" y2="1062" stroke="#000080" stroke-width="4.5" stroke-dasharray="10 10.4" stroke-dashoffset="1.5" stroke-linecap="round"/>
<line x1="161.6" y1="1062" x2="191.9" y2="1052.8" stroke="#000080" stroke-width="4.5" stroke-dasharray="10 10.4" stroke-dashoffset="1.5" stroke-linecap="round"/>
<line x1="191.9" y1="1052.8" x2="222.3" y2="1041.4" stroke="#000080" stroke-width="4.5" stroke-dasharray="10 10.4" stroke-dashoffset="1.5" stroke-linecap="round"/>
<line x1="222.3" y1="1041.4" x2="252.7" y2="1007.4" stroke="#000080" stroke-width="4.5" stroke-dasharray="10 10.4" stroke-dashoffset="1.5" stroke-linecap="round"/>
<line x1="252.7" y1="1007.4" x2="283.1" y2="895.6" stroke="#000080" stroke-width="4.5" stroke-dasharray="10 10.4" stroke-dashoffset="1.5" stroke-linecap="round"/>
<line x1="283.1" y1="895.6" x2="313.4" y2="818.6" stroke="#000080" stroke-width="4.5" stroke-dasharray="10 10.4" stroke-dashoffset="1.5" stroke-linecap="round"/>
<line x1="313.4" y1="818.6" x2="343.8" y2="801.2" stroke="#000080" stroke-width="4.5" stroke-dasharray="10 10.4" stroke-dashoffset="1.5" stroke-linecap="round"/>
<path d="M131.2 1065.4L137.4 1071.6L131.2 1077.8L125 1071.6Z" fill="#000080"/>
<path d="M161.6 1055.8L167.8 1062L161.6 1068.2L155.4 1062Z" fill="#000080"/>
<path d="M191.9 1046.6L198.1 1052.8L191.9 1059L185.7 1052.8Z" fill="#000080"/>
<path d="M222.3 1035.2L228.5 1041.4L222.3 1047.6L216.1 1041.4Z" fill="#000080"/>
<path d="M252.7 1001.2L258.9 1007.4L252.7 1013.6L246.5 1007.4Z" fill="#000080"/>
<path d="M283.1 889.4L289.3 895.6L283.1 901.8L276.9 895.6Z" fill="#000080"/>
<path d="M313.4 812.4L319.6 818.6L313.4 824.8L307.2 818.6Z" fill="#000080"/>
<path d="M343.8 795L350 801.2L343.8 807.4L337.6 801.2Z" fill="#000080"/>
<line x1="404.6" y1="1070.7" x2="435" y2="1069.3" stroke="#000080" stroke-width="4.5" stroke-dasharray="10 10.4" stroke-dashoffset="1.5" stroke-linecap="round"/>
<line x1="435" y1="1069.3" x2="465.3" y2="1067" stroke="#000080" stroke-width="4.5" stroke-dasharray="10 10.4" stroke-dashoffset="1.5" stroke-linecap="round"/>
<line x1="465.3" y1="1067" x2="495.7" y2="1062.4" stroke="#000080" stroke-width="4.5" stroke-dasharray="10 10.4" stroke-dashoffset="1.5" stroke-linecap="round"/>
<line x1="495.7" y1="1062.4" x2="526.1" y2="1041.8" stroke="#000080" stroke-width="4.5" stroke-dasharray="10 10.4" stroke-dashoffset="1.5" stroke-linecap="round"/>
<line x1="526.1" y1="1041.8" x2="556.5" y2="1036.3" stroke="#000080" stroke-width="4.5" stroke-dasharray="10 10.4" stroke-dashoffset="1.5" stroke-linecap="round"/>
<line x1="556.5" y1="1036.3" x2="586.8" y2="1025.8" stroke="#000080" stroke-width="4.5" stroke-dasharray="10 10.4" stroke-dashoffset="1.5" stroke-linecap="round"/>
<line x1="586.8" y1="1025.8" x2="617.2" y2="1016.6" stroke="#000080" stroke-width="4.5" stroke-dasharray="10 10.4" stroke-dashoffset="1.5" stroke-linecap="round"/>
<path d="M404.6 1064.5L410.8 1070.7L404.6 1076.9L398.4 1070.7Z" fill="#000080"/>
<path d="M435 1063.1L441.2 1069.3L435 1075.5L428.8 1069.3Z" fill="#000080"/>
<path d="M465.3 1060.8L471.5 1067L465.3 1073.2L459.1 1067Z" fill="#000080"/>
<path d="M495.7 1056.2L501.9 1062.4L495.7 1068.6L489.5 1062.4Z" fill="#000080"/>
<path d="M526.1 1035.6L532.3 1041.8L526.1 1048L519.9 1041.8Z" fill="#000080"/>
<path d="M556.5 1030.1L562.7 1036.3L556.5 1042.5L550.3 1036.3Z" fill="#000080"/>
<path d="M586.8 1019.6L593 1025.8L586.8 1032L580.6 1025.8Z" fill="#000080"/>
<path d="M617.2 1010.4L623.4 1016.6L617.2 1022.8L611 1016.6Z" fill="#000080"/>
<line x1="678" y1="1070.7" x2="708.3" y2="1016.1" stroke="#000080" stroke-width="4.5" stroke-dasharray="10 10.4" stroke-dashoffset="1.5" stroke-linecap="round"/>
<line x1="708.3" y1="1016.1" x2="738.7" y2="835.5" stroke="#000080" stroke-width="4.5" stroke-dasharray="10 10.4" stroke-dashoffset="1.5" stroke-linecap="round"/>
<line x1="738.7" y1="835.5" x2="769.1" y2="808" stroke="#000080" stroke-width="4.5" stroke-dasharray="10 10.4" stroke-dashoffset="1.5" stroke-linecap="round"/>
<line x1="769.1" y1="808" x2="799.5" y2="803.4" stroke="#000080" stroke-width="4.5" stroke-dasharray="10 10.4" stroke-dashoffset="1.5" stroke-linecap="round"/>
<line x1="799.5" y1="803.4" x2="829.9" y2="787.9" stroke="#000080" stroke-width="4.5" stroke-dasharray="10 10.4" stroke-dashoffset="1.5" stroke-linecap="round"/>
<line x1="829.9" y1="787.9" x2="860.2" y2="776.4" stroke="#000080" stroke-width="4.5" stroke-dasharray="10 10.4" stroke-dashoffset="1.5" stroke-linecap="round"/>
<line x1="860.2" y1="776.4" x2="890.6" y2="764.5" stroke="#000080" stroke-width="4.5" stroke-dasharray="10 10.4" stroke-dashoffset="1.5" stroke-linecap="round"/>
<path d="M678 1064.5L684.2 1070.7L678 1076.9L671.8 1070.7Z" fill="#000080"/>
<path d="M708.3 1009.9L714.5 1016.1L708.3 1022.3L702.1 1016.1Z" fill="#000080"/>
<path d="M738.7 829.3L744.9 835.5L738.7 841.7L732.5 835.5Z" fill="#000080"/>
<path d="M769.1 801.8L775.3 808L769.1 814.2L762.9 808Z" fill="#000080"/>
<path d="M799.5 797.2L805.7 803.4L799.5 809.6L793.3 803.4Z" fill="#000080"/>
<path d="M829.9 781.7L836.1 787.9L829.9 794.1L823.7 787.9Z" fill="#000080"/>
<path d="M860.2 770.2L866.4 776.4L860.2 782.6L854 776.4Z" fill="#000080"/>
<path d="M890.6 758.3L896.8 764.5L890.6 770.7L884.4 764.5Z" fill="#000080"/>
<line x1="131.2" y1="1072.1" x2="161.6" y2="1067" stroke="#ff0000" stroke-width="4.5" stroke-dasharray="10 10.4" stroke-dashoffset="1.5" stroke-linecap="round"/>
<line x1="161.6" y1="1067" x2="191.9" y2="1064.7" stroke="#ff0000" stroke-width="4.5" stroke-dasharray="10 10.4" stroke-dashoffset="1.5" stroke-linecap="round"/>
<line x1="191.9" y1="1064.7" x2="222.3" y2="1067" stroke="#ff0000" stroke-width="4.5" stroke-dasharray="10 10.4" stroke-dashoffset="1.5" stroke-linecap="round"/>
<line x1="222.3" y1="1067" x2="252.7" y2="1018.9" stroke="#ff0000" stroke-width="4.5" stroke-dasharray="10 10.4" stroke-dashoffset="1.5" stroke-linecap="round"/>
<line x1="252.7" y1="1018.9" x2="283.1" y2="904.3" stroke="#ff0000" stroke-width="4.5" stroke-dasharray="10 10.4" stroke-dashoffset="1.5" stroke-linecap="round"/>
<line x1="283.1" y1="904.3" x2="313.4" y2="824.1" stroke="#ff0000" stroke-width="4.5" stroke-dasharray="10 10.4" stroke-dashoffset="1.5" stroke-linecap="round"/>
<line x1="313.4" y1="824.1" x2="343.8" y2="734.7" stroke="#ff0000" stroke-width="4.5" stroke-dasharray="10 10.4" stroke-dashoffset="1.5" stroke-linecap="round"/>
<rect x="125.6" y="1066.5" width="11.2" height="11.2" fill="#ff0000"/>
<rect x="156" y="1061.4" width="11.2" height="11.2" fill="#ff0000"/>
<rect x="186.3" y="1059.1" width="11.2" height="11.2" fill="#ff0000"/>
<rect x="216.7" y="1061.4" width="11.2" height="11.2" fill="#ff0000"/>
<rect x="247.1" y="1013.3" width="11.2" height="11.2" fill="#ff0000"/>
<rect x="277.5" y="898.7" width="11.2" height="11.2" fill="#ff0000"/>
<rect x="307.8" y="818.5" width="11.2" height="11.2" fill="#ff0000"/>
<rect x="338.2" y="729.1" width="11.2" height="11.2" fill="#ff0000"/>
<line x1="404.6" y1="1070.7" x2="435" y2="1065.6" stroke="#ff0000" stroke-width="4.5" stroke-dasharray="10 10.4" stroke-dashoffset="1.5" stroke-linecap="round"/>
<line x1="435" y1="1065.6" x2="465.3" y2="1062.9" stroke="#ff0000" stroke-width="4.5" stroke-dasharray="10 10.4" stroke-dashoffset="1.5" stroke-linecap="round"/>
<line x1="465.3" y1="1062.9" x2="495.7" y2="1055.6" stroke="#ff0000" stroke-width="4.5" stroke-dasharray="10 10.4" stroke-dashoffset="1.5" stroke-linecap="round"/>
<line x1="495.7" y1="1055.6" x2="526.1" y2="1039.5" stroke="#ff0000" stroke-width="4.5" stroke-dasharray="10 10.4" stroke-dashoffset="1.5" stroke-linecap="round"/>
<line x1="526.1" y1="1039.5" x2="556.5" y2="1029" stroke="#ff0000" stroke-width="4.5" stroke-dasharray="10 10.4" stroke-dashoffset="1.5" stroke-linecap="round"/>
<line x1="556.5" y1="1029" x2="586.8" y2="1022.6" stroke="#ff0000" stroke-width="4.5" stroke-dasharray="10 10.4" stroke-dashoffset="1.5" stroke-linecap="round"/>
<line x1="586.8" y1="1022.6" x2="617.2" y2="1014.3" stroke="#ff0000" stroke-width="4.5" stroke-dasharray="10 10.4" stroke-dashoffset="1.5" stroke-linecap="round"/>
<rect x="399" y="1065.1" width="11.2" height="11.2" fill="#ff0000"/>
<rect x="429.4" y="1060" width="11.2" height="11.2" fill="#ff0000"/>
<rect x="459.7" y="1057.3" width="11.2" height="11.2" fill="#ff0000"/>
<rect x="490.1" y="1050" width="11.2" height="11.2" fill="#ff0000"/>
<rect x="520.5" y="1033.9" width="11.2" height="11.2" fill="#ff0000"/>
<rect x="550.9" y="1023.4" width="11.2" height="11.2" fill="#ff0000"/>
<rect x="581.2" y="1017" width="11.2" height="11.2" fill="#ff0000"/>
<rect x="611.6" y="1008.7" width="11.2" height="11.2" fill="#ff0000"/>
<line x1="678" y1="1070.7" x2="708.3" y2="994.1" stroke="#ff0000" stroke-width="4.5" stroke-dasharray="10 10.4" stroke-dashoffset="1.5" stroke-linecap="round"/>
<line x1="708.3" y1="994.1" x2="738.7" y2="853" stroke="#ff0000" stroke-width="4.5" stroke-dasharray="10 10.4" stroke-dashoffset="1.5" stroke-linecap="round"/>
<line x1="738.7" y1="853" x2="769.1" y2="812.2" stroke="#ff0000" stroke-width="4.5" stroke-dasharray="10 10.4" stroke-dashoffset="1.5" stroke-linecap="round"/>
<line x1="769.1" y1="812.2" x2="799.5" y2="799.8" stroke="#ff0000" stroke-width="4.5" stroke-dasharray="10 10.4" stroke-dashoffset="1.5" stroke-linecap="round"/>
<line x1="799.5" y1="799.8" x2="829.9" y2="792.4" stroke="#ff0000" stroke-width="4.5" stroke-dasharray="10 10.4" stroke-dashoffset="1.5" stroke-linecap="round"/>
<line x1="829.9" y1="792.4" x2="860.2" y2="783.3" stroke="#ff0000" stroke-width="4.5" stroke-dasharray="10 10.4" stroke-dashoffset="1.5" stroke-linecap="round"/>
<line x1="860.2" y1="783.3" x2="890.6" y2="770.4" stroke="#ff0000" stroke-width="4.5" stroke-dasharray="10 10.4" stroke-dashoffset="1.5" stroke-linecap="round"/>
<rect x="672.4" y="1065.1" width="11.2" height="11.2" fill="#ff0000"/>
<rect x="702.7" y="988.5" width="11.2" height="11.2" fill="#ff0000"/>
<rect x="733.1" y="847.4" width="11.2" height="11.2" fill="#ff0000"/>
<rect x="763.5" y="806.6" width="11.2" height="11.2" fill="#ff0000"/>
<rect x="793.9" y="794.2" width="11.2" height="11.2" fill="#ff0000"/>
<rect x="824.3" y="786.8" width="11.2" height="11.2" fill="#ff0000"/>
<rect x="854.6" y="777.7" width="11.2" height="11.2" fill="#ff0000"/>
<rect x="885" y="764.8" width="11.2" height="11.2" fill="#ff0000"/>
<line x1="131.2" y1="1072.1" x2="161.6" y2="1071.6" stroke="#000000" stroke-width="4.5" stroke-dasharray="10 10.4" stroke-dashoffset="1.5" stroke-linecap="round"/>
<line x1="161.6" y1="1071.6" x2="191.9" y2="1069.3" stroke="#000000" stroke-width="4.5" stroke-dasharray="10 10.4" stroke-dashoffset="1.5" stroke-linecap="round"/>
<line x1="191.9" y1="1069.3" x2="222.3" y2="1067" stroke="#000000" stroke-width="4.5" stroke-dasharray="10 10.4" stroke-dashoffset="1.5" stroke-linecap="round"/>
<line x1="222.3" y1="1067" x2="252.7" y2="1039.5" stroke="#000000" stroke-width="4.5" stroke-dasharray="10 10.4" stroke-dashoffset="1.5" stroke-linecap="round"/>
<line x1="252.7" y1="1039.5" x2="283.1" y2="938.7" stroke="#000000" stroke-width="4.5" stroke-dasharray="10 10.4" stroke-dashoffset="1.5" stroke-linecap="round"/>
<line x1="283.1" y1="938.7" x2="313.4" y2="863" stroke="#000000" stroke-width="4.5" stroke-dasharray="10 10.4" stroke-dashoffset="1.5" stroke-linecap="round"/>
<line x1="313.4" y1="863" x2="343.8" y2="836" stroke="#000000" stroke-width="4.5" stroke-dasharray="10 10.4" stroke-dashoffset="1.5" stroke-linecap="round"/>
<circle cx="131.2" cy="1072.1" r="5.4" fill="#fff" stroke="#000" stroke-width="1"/>
<circle cx="161.6" cy="1071.6" r="5.4" fill="#fff" stroke="#000" stroke-width="1"/>
<circle cx="191.9" cy="1069.3" r="5.4" fill="#fff" stroke="#000" stroke-width="1"/>
<circle cx="222.3" cy="1067" r="5.4" fill="#fff" stroke="#000" stroke-width="1"/>
<circle cx="252.7" cy="1039.5" r="5.4" fill="#fff" stroke="#000" stroke-width="1"/>
<circle cx="283.1" cy="938.7" r="5.4" fill="#fff" stroke="#000" stroke-width="1"/>
<circle cx="313.4" cy="863" r="5.4" fill="#fff" stroke="#000" stroke-width="1"/>
<circle cx="343.8" cy="836" r="5.4" fill="#fff" stroke="#000" stroke-width="1"/>
<line x1="404.6" y1="1070.7" x2="435" y2="1069.3" stroke="#000000" stroke-width="4.5" stroke-dasharray="10 10.4" stroke-dashoffset="1.5" stroke-linecap="round"/>
<line x1="435" y1="1069.3" x2="465.3" y2="1067" stroke="#000000" stroke-width="4.5" stroke-dasharray="10 10.4" stroke-dashoffset="1.5" stroke-linecap="round"/>
<line x1="465.3" y1="1067" x2="495.7" y2="1062.9" stroke="#000000" stroke-width="4.5" stroke-dasharray="10 10.4" stroke-dashoffset="1.5" stroke-linecap="round"/>
<line x1="495.7" y1="1062.9" x2="526.1" y2="1042.7" stroke="#000000" stroke-width="4.5" stroke-dasharray="10 10.4" stroke-dashoffset="1.5" stroke-linecap="round"/>
<line x1="526.1" y1="1042.7" x2="556.5" y2="1042.3" stroke="#000000" stroke-width="4.5" stroke-dasharray="10 10.4" stroke-dashoffset="1.5" stroke-linecap="round"/>
<line x1="556.5" y1="1042.3" x2="586.8" y2="1029.4" stroke="#000000" stroke-width="4.5" stroke-dasharray="10 10.4" stroke-dashoffset="1.5" stroke-linecap="round"/>
<line x1="586.8" y1="1029.4" x2="617.2" y2="1019.4" stroke="#000000" stroke-width="4.5" stroke-dasharray="10 10.4" stroke-dashoffset="1.5" stroke-linecap="round"/>
<circle cx="404.6" cy="1070.7" r="5.4" fill="#fff" stroke="#000" stroke-width="1"/>
<circle cx="435" cy="1069.3" r="5.4" fill="#fff" stroke="#000" stroke-width="1"/>
<circle cx="465.3" cy="1067" r="5.4" fill="#fff" stroke="#000" stroke-width="1"/>
<circle cx="495.7" cy="1062.9" r="5.4" fill="#fff" stroke="#000" stroke-width="1"/>
<circle cx="526.1" cy="1042.7" r="5.4" fill="#fff" stroke="#000" stroke-width="1"/>
<circle cx="556.5" cy="1042.3" r="5.4" fill="#fff" stroke="#000" stroke-width="1"/>
<circle cx="586.8" cy="1029.4" r="5.4" fill="#fff" stroke="#000" stroke-width="1"/>
<circle cx="617.2" cy="1019.4" r="5.4" fill="#fff" stroke="#000" stroke-width="1"/>
<line x1="678" y1="1070.7" x2="708.3" y2="1016.1" stroke="#000000" stroke-width="4.5" stroke-dasharray="10 10.4" stroke-dashoffset="1.5" stroke-linecap="round"/>
<line x1="708.3" y1="1016.1" x2="738.7" y2="842.4" stroke="#000000" stroke-width="4.5" stroke-dasharray="10 10.4" stroke-dashoffset="1.5" stroke-linecap="round"/>
<line x1="738.7" y1="842.4" x2="769.1" y2="831.9" stroke="#000000" stroke-width="4.5" stroke-dasharray="10 10.4" stroke-dashoffset="1.5" stroke-linecap="round"/>
<line x1="769.1" y1="831.9" x2="799.5" y2="819.5" stroke="#000000" stroke-width="4.5" stroke-dasharray="10 10.4" stroke-dashoffset="1.5" stroke-linecap="round"/>
<line x1="799.5" y1="819.5" x2="829.9" y2="804.4" stroke="#000000" stroke-width="4.5" stroke-dasharray="10 10.4" stroke-dashoffset="1.5" stroke-linecap="round"/>
<line x1="829.9" y1="804.4" x2="860.2" y2="792.4" stroke="#000000" stroke-width="4.5" stroke-dasharray="10 10.4" stroke-dashoffset="1.5" stroke-linecap="round"/>
<line x1="860.2" y1="792.4" x2="890.6" y2="778.7" stroke="#000000" stroke-width="4.5" stroke-dasharray="10 10.4" stroke-dashoffset="1.5" stroke-linecap="round"/>
<circle cx="678" cy="1070.7" r="5.4" fill="#fff" stroke="#000" stroke-width="1"/>
<circle cx="708.3" cy="1016.1" r="5.4" fill="#fff" stroke="#000" stroke-width="1"/>
<circle cx="738.7" cy="842.4" r="5.4" fill="#fff" stroke="#000" stroke-width="1"/>
<circle cx="769.1" cy="831.9" r="5.4" fill="#fff" stroke="#000" stroke-width="1"/>
<circle cx="799.5" cy="819.5" r="5.4" fill="#fff" stroke="#000" stroke-width="1"/>
<circle cx="829.9" cy="804.4" r="5.4" fill="#fff" stroke="#000" stroke-width="1"/>
<circle cx="860.2" cy="792.4" r="5.4" fill="#fff" stroke="#000" stroke-width="1"/>
<circle cx="890.6" cy="778.7" r="5.4" fill="#fff" stroke="#000" stroke-width="1"/>
<line x1="131.2" y1="1072.1" x2="161.6" y2="1071.1" stroke="#008000" stroke-width="4.5" stroke-dasharray="10 10.4" stroke-dashoffset="1.5" stroke-linecap="round"/>
<line x1="161.6" y1="1071.1" x2="191.9" y2="1068.4" stroke="#008000" stroke-width="4.5" stroke-dasharray="10 10.4" stroke-dashoffset="1.5" stroke-linecap="round"/>
<line x1="191.9" y1="1068.4" x2="222.3" y2="1060.1" stroke="#008000" stroke-width="4.5" stroke-dasharray="10 10.4" stroke-dashoffset="1.5" stroke-linecap="round"/>
<line x1="222.3" y1="1060.1" x2="252.7" y2="987.7" stroke="#008000" stroke-width="4.5" stroke-dasharray="10 10.4" stroke-dashoffset="1.5" stroke-linecap="round"/>
<line x1="252.7" y1="987.7" x2="283.1" y2="905.2" stroke="#008000" stroke-width="4.5" stroke-dasharray="10 10.4" stroke-dashoffset="1.5" stroke-linecap="round"/>
<line x1="283.1" y1="905.2" x2="313.4" y2="833.2" stroke="#008000" stroke-width="4.5" stroke-dasharray="10 10.4" stroke-dashoffset="1.5" stroke-linecap="round"/>
<line x1="313.4" y1="833.2" x2="343.8" y2="722.3" stroke="#008000" stroke-width="4.5" stroke-dasharray="10 10.4" stroke-dashoffset="1.5" stroke-linecap="round"/>
<circle cx="131.2" cy="1072.1" r="6.3" fill="#008000"/>
<circle cx="161.6" cy="1071.1" r="6.3" fill="#008000"/>
<circle cx="191.9" cy="1068.4" r="6.3" fill="#008000"/>
<circle cx="222.3" cy="1060.1" r="6.3" fill="#008000"/>
<circle cx="252.7" cy="987.7" r="6.3" fill="#008000"/>
<circle cx="283.1" cy="905.2" r="6.3" fill="#008000"/>
<circle cx="313.4" cy="833.2" r="6.3" fill="#008000"/>
<circle cx="343.8" cy="722.3" r="6.3" fill="#008000"/>
<line x1="404.6" y1="1070.7" x2="435" y2="1068.4" stroke="#008000" stroke-width="4.5" stroke-dasharray="10 10.4" stroke-dashoffset="1.5" stroke-linecap="round"/>
<line x1="435" y1="1068.4" x2="465.3" y2="1066.6" stroke="#008000" stroke-width="4.5" stroke-dasharray="10 10.4" stroke-dashoffset="1.5" stroke-linecap="round"/>
<line x1="465.3" y1="1066.6" x2="495.7" y2="1059.7" stroke="#008000" stroke-width="4.5" stroke-dasharray="10 10.4" stroke-dashoffset="1.5" stroke-linecap="round"/>
<line x1="495.7" y1="1059.7" x2="526.1" y2="1029" stroke="#008000" stroke-width="4.5" stroke-dasharray="10 10.4" stroke-dashoffset="1.5" stroke-linecap="round"/>
<line x1="526.1" y1="1029" x2="556.5" y2="1014.3" stroke="#008000" stroke-width="4.5" stroke-dasharray="10 10.4" stroke-dashoffset="1.5" stroke-linecap="round"/>
<line x1="556.5" y1="1014.3" x2="586.8" y2="992.8" stroke="#008000" stroke-width="4.5" stroke-dasharray="10 10.4" stroke-dashoffset="1.5" stroke-linecap="round"/>
<line x1="586.8" y1="992.8" x2="617.2" y2="976.7" stroke="#008000" stroke-width="4.5" stroke-dasharray="10 10.4" stroke-dashoffset="1.5" stroke-linecap="round"/>
<circle cx="404.6" cy="1070.7" r="6.3" fill="#008000"/>
<circle cx="435" cy="1068.4" r="6.3" fill="#008000"/>
<circle cx="465.3" cy="1066.6" r="6.3" fill="#008000"/>
<circle cx="495.7" cy="1059.7" r="6.3" fill="#008000"/>
<circle cx="526.1" cy="1029" r="6.3" fill="#008000"/>
<circle cx="556.5" cy="1014.3" r="6.3" fill="#008000"/>
<circle cx="586.8" cy="992.8" r="6.3" fill="#008000"/>
<circle cx="617.2" cy="976.7" r="6.3" fill="#008000"/>
<line x1="678" y1="1070.7" x2="708.3" y2="1058.3" stroke="#008000" stroke-width="4.5" stroke-dasharray="10 10.4" stroke-dashoffset="1.5" stroke-linecap="round"/>
<line x1="708.3" y1="1058.3" x2="738.7" y2="993.7" stroke="#008000" stroke-width="4.5" stroke-dasharray="10 10.4" stroke-dashoffset="1.5" stroke-linecap="round"/>
<line x1="738.7" y1="993.7" x2="769.1" y2="926.3" stroke="#008000" stroke-width="4.5" stroke-dasharray="10 10.4" stroke-dashoffset="1.5" stroke-linecap="round"/>
<line x1="769.1" y1="926.3" x2="799.5" y2="909.3" stroke="#008000" stroke-width="4.5" stroke-dasharray="10 10.4" stroke-dashoffset="1.5" stroke-linecap="round"/>
<line x1="799.5" y1="909.3" x2="829.9" y2="885" stroke="#008000" stroke-width="4.5" stroke-dasharray="10 10.4" stroke-dashoffset="1.5" stroke-linecap="round"/>
<line x1="829.9" y1="885" x2="860.2" y2="872.2" stroke="#008000" stroke-width="4.5" stroke-dasharray="10 10.4" stroke-dashoffset="1.5" stroke-linecap="round"/>
<line x1="860.2" y1="872.2" x2="890.6" y2="841.5" stroke="#008000" stroke-width="4.5" stroke-dasharray="10 10.4" stroke-dashoffset="1.5" stroke-linecap="round"/>
<circle cx="678" cy="1070.7" r="6.3" fill="#008000"/>
<circle cx="708.3" cy="1058.3" r="6.3" fill="#008000"/>
<circle cx="738.7" cy="993.7" r="6.3" fill="#008000"/>
<circle cx="769.1" cy="926.3" r="6.3" fill="#008000"/>
<circle cx="799.5" cy="909.3" r="6.3" fill="#008000"/>
<circle cx="829.9" cy="885" r="6.3" fill="#008000"/>
<circle cx="860.2" cy="872.2" r="6.3" fill="#008000"/>
<circle cx="890.6" cy="841.5" r="6.3" fill="#008000"/>
<path d="M131.2 1071.6L161.6 1062L191.9 1052.8L222.3 1041.4L252.7 1007.4L283.1 895.6L313.4 818.6L343.8 801.2" fill="none" stroke="#000080" stroke-width="3.7" stroke-linejoin="round"/>
<path d="M131.2 1063.4L139.4 1071.6L131.2 1079.8L123 1071.6Z" fill="#000080"/>
<path d="M161.6 1053.8L169.8 1062L161.6 1070.2L153.4 1062Z" fill="#000080"/>
<path d="M191.9 1044.6L200.1 1052.8L191.9 1061L183.7 1052.8Z" fill="#000080"/>
<path d="M222.3 1033.2L230.5 1041.4L222.3 1049.6L214.1 1041.4Z" fill="#000080"/>
<path d="M252.7 999.2L260.9 1007.4L252.7 1015.6L244.5 1007.4Z" fill="#000080"/>
<path d="M283.1 887.4L291.3 895.6L283.1 903.8L274.9 895.6Z" fill="#000080"/>
<path d="M313.4 810.4L321.6 818.6L313.4 826.8L305.2 818.6Z" fill="#000080"/>
<path d="M343.8 793L352 801.2L343.8 809.4L335.6 801.2Z" fill="#000080"/>
<path d="M404.6 1070.7L435 1069.3L465.3 1067L495.7 1062.4L526.1 999.6L556.5 940L586.8 892.8L617.2 890.5" fill="none" stroke="#000080" stroke-width="3.7" stroke-linejoin="round"/>
<path d="M404.6 1062.5L412.8 1070.7L404.6 1078.9L396.4 1070.7Z" fill="#000080"/>
<path d="M435 1061.1L443.2 1069.3L435 1077.5L426.8 1069.3Z" fill="#000080"/>
<path d="M465.3 1058.8L473.5 1067L465.3 1075.2L457.1 1067Z" fill="#000080"/>
<path d="M495.7 1054.2L503.9 1062.4L495.7 1070.6L487.5 1062.4Z" fill="#000080"/>
<path d="M526.1 991.4L534.3 999.6L526.1 1007.8L517.9 999.6Z" fill="#000080"/>
<path d="M556.5 931.8L564.7 940L556.5 948.2L548.3 940Z" fill="#000080"/>
<path d="M586.8 884.6L595 892.8L586.8 901L578.6 892.8Z" fill="#000080"/>
<path d="M617.2 882.3L625.4 890.5L617.2 898.7L609 890.5Z" fill="#000080"/>
<path d="M678 1070.7L708.3 1016.1L738.7 786L769.1 752.1L799.5 705.8L829.9 629.7L860.2 615.5L890.6 615.5" fill="none" stroke="#000080" stroke-width="3.7" stroke-linejoin="round"/>
<path d="M678 1062.5L686.2 1070.7L678 1078.9L669.8 1070.7Z" fill="#000080"/>
<path d="M708.3 1007.9L716.5 1016.1L708.3 1024.3L700.1 1016.1Z" fill="#000080"/>
<path d="M738.7 777.8L746.9 786L738.7 794.2L730.5 786Z" fill="#000080"/>
<path d="M769.1 743.9L777.3 752.1L769.1 760.3L760.9 752.1Z" fill="#000080"/>
<path d="M799.5 697.6L807.7 705.8L799.5 714L791.3 705.8Z" fill="#000080"/>
<path d="M829.9 621.5L838.1 629.7L829.9 637.9L821.7 629.7Z" fill="#000080"/>
<path d="M860.2 607.3L868.4 615.5L860.2 623.7L852 615.5Z" fill="#000080"/>
<path d="M890.6 607.3L898.8 615.5L890.6 623.7L882.4 615.5Z" fill="#000080"/>
<path d="M131.2 1072.1L161.6 1067L191.9 1064.7L222.3 1067L252.7 1020.3L283.1 807.6L313.4 775.9L343.8 733.8" fill="none" stroke="#ff0000" stroke-width="3.7" stroke-linejoin="round"/>
<rect x="123.8" y="1064.7" width="14.8" height="14.8" fill="#ff0000" stroke="#e8862e" stroke-width="1"/>
<rect x="154.2" y="1059.6" width="14.8" height="14.8" fill="#ff0000" stroke="#e8862e" stroke-width="1"/>
<rect x="184.5" y="1057.3" width="14.8" height="14.8" fill="#ff0000" stroke="#e8862e" stroke-width="1"/>
<rect x="214.9" y="1059.6" width="14.8" height="14.8" fill="#ff0000" stroke="#e8862e" stroke-width="1"/>
<rect x="245.3" y="1012.9" width="14.8" height="14.8" fill="#ff0000" stroke="#e8862e" stroke-width="1"/>
<rect x="275.7" y="800.2" width="14.8" height="14.8" fill="#ff0000" stroke="#e8862e" stroke-width="1"/>
<rect x="306.1" y="768.5" width="14.8" height="14.8" fill="#ff0000" stroke="#e8862e" stroke-width="1"/>
<rect x="336.4" y="726.4" width="14.8" height="14.8" fill="#ff0000" stroke="#e8862e" stroke-width="1"/>
<path d="M404.6 1070.7L435 1065.6L465.3 1062.9L495.7 1041.4L526.1 994.1L556.5 971.2L586.8 954.3L617.2 928.6" fill="none" stroke="#ff0000" stroke-width="3.7" stroke-linejoin="round"/>
<rect x="397.2" y="1063.3" width="14.8" height="14.8" fill="#ff0000" stroke="#e8862e" stroke-width="1"/>
<rect x="427.6" y="1058.2" width="14.8" height="14.8" fill="#ff0000" stroke="#e8862e" stroke-width="1"/>
<rect x="457.9" y="1055.5" width="14.8" height="14.8" fill="#ff0000" stroke="#e8862e" stroke-width="1"/>
<rect x="488.3" y="1034" width="14.8" height="14.8" fill="#ff0000" stroke="#e8862e" stroke-width="1"/>
<rect x="518.7" y="986.7" width="14.8" height="14.8" fill="#ff0000" stroke="#e8862e" stroke-width="1"/>
<rect x="549.1" y="963.8" width="14.8" height="14.8" fill="#ff0000" stroke="#e8862e" stroke-width="1"/>
<rect x="579.4" y="946.9" width="14.8" height="14.8" fill="#ff0000" stroke="#e8862e" stroke-width="1"/>
<rect x="609.8" y="921.2" width="14.8" height="14.8" fill="#ff0000" stroke="#e8862e" stroke-width="1"/>
<path d="M678 1070.7L708.3 994.1L738.7 853L769.1 812.2L799.5 660.9L829.9 621.9L860.2 615.5L890.6 615.5" fill="none" stroke="#ff0000" stroke-width="3.7" stroke-linejoin="round"/>
<rect x="670.6" y="1063.3" width="14.8" height="14.8" fill="#ff0000" stroke="#e8862e" stroke-width="1"/>
<rect x="700.9" y="986.7" width="14.8" height="14.8" fill="#ff0000" stroke="#e8862e" stroke-width="1"/>
<rect x="731.3" y="845.6" width="14.8" height="14.8" fill="#ff0000" stroke="#e8862e" stroke-width="1"/>
<rect x="761.7" y="804.8" width="14.8" height="14.8" fill="#ff0000" stroke="#e8862e" stroke-width="1"/>
<rect x="792.1" y="653.5" width="14.8" height="14.8" fill="#ff0000" stroke="#e8862e" stroke-width="1"/>
<rect x="822.5" y="614.5" width="14.8" height="14.8" fill="#ff0000" stroke="#e8862e" stroke-width="1"/>
<rect x="852.8" y="608.1" width="14.8" height="14.8" fill="#ff0000" stroke="#e8862e" stroke-width="1"/>
<rect x="883.2" y="608.1" width="14.8" height="14.8" fill="#ff0000" stroke="#e8862e" stroke-width="1"/>
<path d="M131.2 1072.1L161.6 1071.6L191.9 1069.3L222.3 1067L252.7 1039.5L283.1 940L313.4 865.3L343.8 840.1" fill="none" stroke="#000000" stroke-width="3.0" stroke-linejoin="round"/>
<circle cx="131.2" cy="1072.1" r="7.2" fill="none" stroke="#000" stroke-width="2.8"/>
<circle cx="161.6" cy="1071.6" r="7.2" fill="none" stroke="#000" stroke-width="2.8"/>
<circle cx="191.9" cy="1069.3" r="7.2" fill="none" stroke="#000" stroke-width="2.8"/>
<circle cx="222.3" cy="1067" r="7.2" fill="none" stroke="#000" stroke-width="2.8"/>
<circle cx="252.7" cy="1039.5" r="7.2" fill="none" stroke="#000" stroke-width="2.8"/>
<circle cx="283.1" cy="940" r="7.2" fill="none" stroke="#000" stroke-width="2.8"/>
<circle cx="313.4" cy="865.3" r="7.2" fill="none" stroke="#000" stroke-width="2.8"/>
<circle cx="343.8" cy="840.1" r="7.2" fill="none" stroke="#000" stroke-width="2.8"/>
<path d="M404.6 1070.7L435 1069.3L465.3 1067L495.7 1062.9L526.1 1042.7L556.5 949.7L586.8 908.9L617.2 891.5" fill="none" stroke="#000000" stroke-width="3.0" stroke-linejoin="round"/>
<circle cx="404.6" cy="1070.7" r="7.2" fill="none" stroke="#000" stroke-width="2.8"/>
<circle cx="435" cy="1069.3" r="7.2" fill="none" stroke="#000" stroke-width="2.8"/>
<circle cx="465.3" cy="1067" r="7.2" fill="none" stroke="#000" stroke-width="2.8"/>
<circle cx="495.7" cy="1062.9" r="7.2" fill="none" stroke="#000" stroke-width="2.8"/>
<circle cx="526.1" cy="1042.7" r="7.2" fill="none" stroke="#000" stroke-width="2.8"/>
<circle cx="556.5" cy="949.7" r="7.2" fill="none" stroke="#000" stroke-width="2.8"/>
<circle cx="586.8" cy="908.9" r="7.2" fill="none" stroke="#000" stroke-width="2.8"/>
<circle cx="617.2" cy="891.5" r="7.2" fill="none" stroke="#000" stroke-width="2.8"/>
<path d="M678 1070.7L708.3 1016.1L738.7 842.4L769.1 741.1L799.5 626L829.9 619.2L860.2 616.9L890.6 615.5" fill="none" stroke="#000000" stroke-width="3.0" stroke-linejoin="round"/>
<circle cx="678" cy="1070.7" r="7.2" fill="none" stroke="#000" stroke-width="2.8"/>
<circle cx="708.3" cy="1016.1" r="7.2" fill="none" stroke="#000" stroke-width="2.8"/>
<circle cx="738.7" cy="842.4" r="7.2" fill="none" stroke="#000" stroke-width="2.8"/>
<circle cx="769.1" cy="741.1" r="7.2" fill="none" stroke="#000" stroke-width="2.8"/>
<circle cx="799.5" cy="626" r="7.2" fill="none" stroke="#000" stroke-width="2.8"/>
<circle cx="829.9" cy="619.2" r="7.2" fill="none" stroke="#000" stroke-width="2.8"/>
<circle cx="860.2" cy="616.9" r="7.2" fill="none" stroke="#000" stroke-width="2.8"/>
<circle cx="890.6" cy="615.5" r="7.2" fill="none" stroke="#000" stroke-width="2.8"/>
<path d="M131.2 1072.1L161.6 1071.1L191.9 1068.4L222.3 1060.1L252.7 943.3L283.1 814.9L313.4 694.8L343.8 678.3" fill="none" stroke="#008000" stroke-width="3.7" stroke-linejoin="round"/>
<circle cx="131.2" cy="1072.1" r="8.4" fill="#008000"/>
<circle cx="161.6" cy="1071.1" r="8.4" fill="#008000"/>
<circle cx="191.9" cy="1068.4" r="8.4" fill="#008000"/>
<circle cx="222.3" cy="1060.1" r="8.4" fill="#008000"/>
<circle cx="252.7" cy="943.3" r="8.4" fill="#008000"/>
<circle cx="283.1" cy="814.9" r="8.4" fill="#008000"/>
<circle cx="313.4" cy="694.8" r="8.4" fill="#008000"/>
<circle cx="343.8" cy="678.3" r="8.4" fill="#008000"/>
<path d="M404.6 1070.7L435 1068.4L465.3 1066.6L495.7 1059.7L526.1 1029L556.5 940L586.8 906.6L617.2 885" fill="none" stroke="#008000" stroke-width="3.7" stroke-linejoin="round"/>
<circle cx="404.6" cy="1070.7" r="8.4" fill="#008000"/>
<circle cx="435" cy="1068.4" r="8.4" fill="#008000"/>
<circle cx="465.3" cy="1066.6" r="8.4" fill="#008000"/>
<circle cx="495.7" cy="1059.7" r="8.4" fill="#008000"/>
<circle cx="526.1" cy="1029" r="8.4" fill="#008000"/>
<circle cx="556.5" cy="940" r="8.4" fill="#008000"/>
<circle cx="586.8" cy="906.6" r="8.4" fill="#008000"/>
<circle cx="617.2" cy="885" r="8.4" fill="#008000"/>
<path d="M678 1070.7L708.3 1058.3L738.7 993.7L769.1 926.3L799.5 665.9L829.9 632L860.2 615.5L890.6 615.5" fill="none" stroke="#008000" stroke-width="3.7" stroke-linejoin="round"/>
<circle cx="678" cy="1070.7" r="8.4" fill="#008000"/>
<circle cx="708.3" cy="1058.3" r="8.4" fill="#008000"/>
<circle cx="738.7" cy="993.7" r="8.4" fill="#008000"/>
<circle cx="769.1" cy="926.3" r="8.4" fill="#008000"/>
<circle cx="799.5" cy="665.9" r="8.4" fill="#008000"/>
<circle cx="829.9" cy="632" r="8.4" fill="#008000"/>
<circle cx="860.2" cy="615.5" r="8.4" fill="#008000"/>
<circle cx="890.6" cy="615.5" r="8.4" fill="#008000"/>
</g>
<text transform="translate(96.2 1082.1) scale(1 1.04)" font-size="24" text-anchor="end">0</text>
<text transform="translate(96.2 990.3) scale(1 1.04)" font-size="24" text-anchor="end">20</text>
<text transform="translate(96.2 898.5) scale(1 1.04)" font-size="24" text-anchor="end">40</text>
<text transform="translate(96.2 806.6) scale(1 1.04)" font-size="24" text-anchor="end">60</text>
<text transform="translate(96.2 714.8) scale(1 1.04)" font-size="24" text-anchor="end">80</text>
<text transform="translate(96.2 623) scale(1 1.04)" font-size="24" text-anchor="end">100</text>
<text transform="translate(63.5 1058.6) rotate(-90) scale(1 1.08)" font-size="30.6">Impact of the CABMV (%)</text>
<text transform="translate(161.8 655.9) scale(1 1.04)" font-size="36" font-weight="bold">B</text>
<text transform="translate(132 1116) scale(1 1.04)" font-size="24" text-anchor="middle">10</text>
<text transform="translate(162.4 1116) scale(1 1.04)" font-size="24" text-anchor="middle">17</text>
<text transform="translate(192.7 1116) scale(1 1.04)" font-size="24" text-anchor="middle">24</text>
<text transform="translate(223.1 1116) scale(1 1.04)" font-size="24" text-anchor="middle">31</text>
<text transform="translate(253.5 1116) scale(1 1.04)" font-size="24" text-anchor="middle">38</text>
<text transform="translate(283.9 1116) scale(1 1.04)" font-size="24" text-anchor="middle">45</text>
<text transform="translate(314.2 1116) scale(1 1.04)" font-size="24" text-anchor="middle">52</text>
<text transform="translate(344.6 1116) scale(1 1.04)" font-size="24" text-anchor="middle">59</text>
<text transform="translate(405.4 1116) scale(1 1.04)" font-size="24" text-anchor="middle">10</text>
<text transform="translate(435.8 1116) scale(1 1.04)" font-size="24" text-anchor="middle">17</text>
<text transform="translate(466.1 1116) scale(1 1.04)" font-size="24" text-anchor="middle">24</text>
<text transform="translate(496.5 1116) scale(1 1.04)" font-size="24" text-anchor="middle">31</text>
<text transform="translate(526.9 1116) scale(1 1.04)" font-size="24" text-anchor="middle">38</text>
<text transform="translate(557.3 1116) scale(1 1.04)" font-size="24" text-anchor="middle">45</text>
<text transform="translate(587.6 1116) scale(1 1.04)" font-size="24" text-anchor="middle">52</text>
<text transform="translate(618 1116) scale(1 1.04)" font-size="24" text-anchor="middle">59</text>
<text transform="translate(678.8 1116) scale(1 1.04)" font-size="24" text-anchor="middle">10</text>
<text transform="translate(709.1 1116) scale(1 1.04)" font-size="24" text-anchor="middle">17</text>
<text transform="translate(739.5 1116) scale(1 1.04)" font-size="24" text-anchor="middle">24</text>
<text transform="translate(769.9 1116) scale(1 1.04)" font-size="24" text-anchor="middle">31</text>
<text transform="translate(800.3 1116) scale(1 1.04)" font-size="24" text-anchor="middle">38</text>
<text transform="translate(830.7 1116) scale(1 1.04)" font-size="24" text-anchor="middle">45</text>
<text transform="translate(861 1116) scale(1 1.04)" font-size="24" text-anchor="middle">52</text>
<text transform="translate(891.4 1116) scale(1 1.04)" font-size="24" text-anchor="middle">59</text>
<text transform="translate(239.3 1137) scale(1 1.04)" font-size="20.6" text-anchor="middle" font-weight="bold">2009</text>
<text transform="translate(517.1 1137) scale(1 1.04)" font-size="20.6" text-anchor="middle" font-weight="bold">2010</text>
<text transform="translate(797.6 1137) scale(1 1.04)" font-size="20.6" text-anchor="middle" font-weight="bold">2011</text>
<text transform="translate(323.7 1150.1) scale(1 1.04)" font-size="20.5">Days after sowing</text>
<rect x="425" y="625.1" width="230.3" height="182.2" fill="#fff" stroke="#000" stroke-width="3"/>
<path d="M446.3 640.6L460.3 654.6L446.3 668.6L432.3 654.6Z" fill="#000080"/>
<rect x="435" y="681.5" width="26.7" height="26.7" fill="#ff0000"/>
<circle cx="446.3" cy="732.9" r="12.2" fill="#008000" stroke="#3c5f8c" stroke-width="2.6"/>
<circle cx="446.3" cy="771.7" r="11.8" fill="#fff" stroke="#000" stroke-width="3"/>
<text transform="translate(485.4 663.1) scale(1 1.04)" font-size="23.5">Gorom local</text>
<text transform="translate(485.4 701.4) scale(1 1.04)" font-size="23.5">Kvx414-22-72</text>
<text transform="translate(485.4 739.6) scale(1 1.04)" font-size="23.5">Kvx30-309-6G</text>
<text transform="translate(485.4 784.3) scale(1 1.04)" font-size="23.5">Moussa local</text>
<g font-family="'Liberation Serif', 'Times New Roman', serif" font-weight="bold" font-size="16.25">
<text x="9.3" y="1197" word-spacing="0.38" xml:space="preserve">Figure 2: Propagation of CABMV in the treated plots (---) or non treated plots (</text>
<text x="564.9" y="1195.9" font-size="12.7">—</text>
<text x="573.8" y="1197" word-spacing="0.45" xml:space="preserve">)  <tspan dx="2.9">from 2009 to 2011. The plots have been sown with</tspan></text>
<text x="306.8" y="1215.5">seeds contaminated to 0.25 % (A) and 0.5% (B).</text>
</g>
</svg>
</body>
</html>
